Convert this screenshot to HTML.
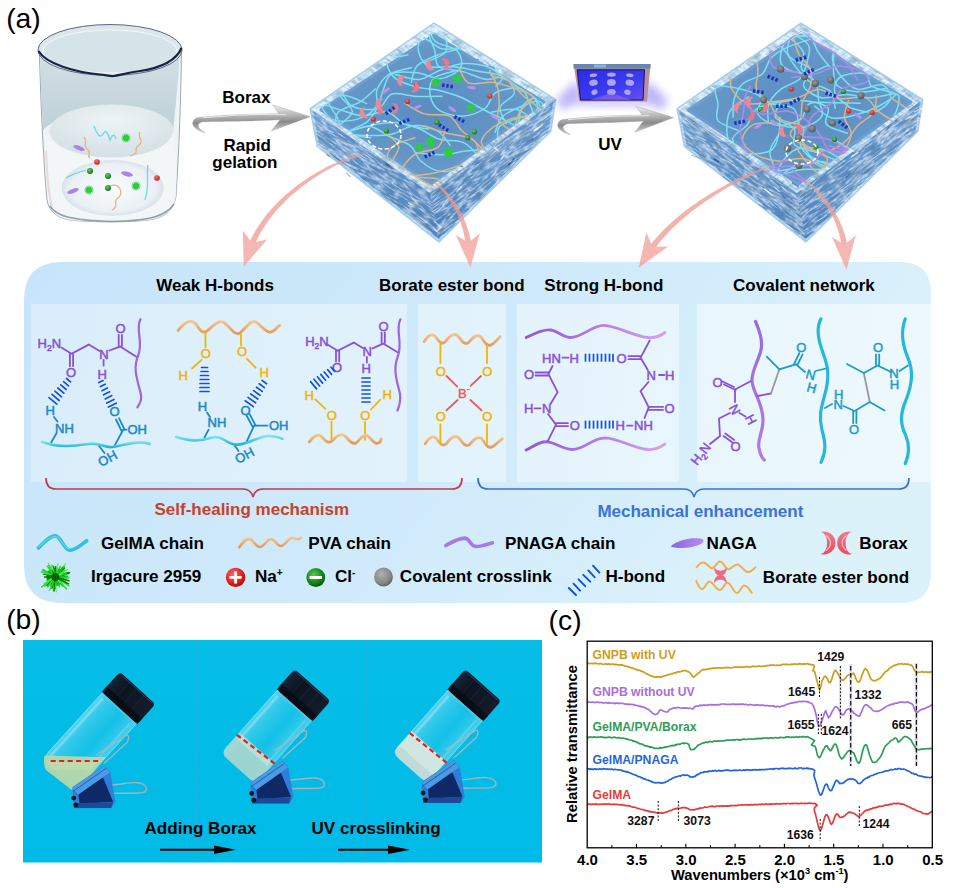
<!DOCTYPE html>
<html><head><meta charset="utf-8">
<style>
html,body{margin:0;padding:0;background:#fff;}
body{width:953px;height:888px;position:relative;overflow:hidden;font-family:"Liberation Sans",sans-serif;}
svg{position:absolute;left:0;top:0;}
</style></head><body>
<svg width="953" height="888" viewBox="0 0 953 888" font-family="Liberation Sans, sans-serif">

<defs>
  <linearGradient id="panelG" x1="0" y1="0" x2="1" y2="0.3">
    <stop offset="0" stop-color="#c6e4fa"/><stop offset="0.55" stop-color="#cfeafb"/><stop offset="1" stop-color="#dcf2fb"/>
  </linearGradient>
  <linearGradient id="boxG" gradientUnits="userSpaceOnUse" x1="31" y1="304" x2="931" y2="482">
    <stop offset="0" stop-color="#d9edfa"/><stop offset="0.5" stop-color="#e3f3fc"/><stop offset="1" stop-color="#eef9fd"/>
  </linearGradient>
</defs>
<path d="M62,262 H900 Q931,262 931,293 V573 Q931,603 901,603 H62 Q24,603 24,565 V300 Q24,262 62,262 Z" fill="url(#panelG)"/>
<g fill="url(#boxG)">
<rect x="31" y="304" width="376" height="178"/>
<rect x="418" y="304" width="88" height="178"/>
<rect x="517" y="304" width="162" height="178"/>
<rect x="697" y="304" width="234" height="178"/>
</g>
<g font-weight="bold" font-size="17">
<text x="156.2" y="291">Weak H-bonds</text>
<text x="379.1" y="291">Borate ester bond</text>
<text x="544.3" y="291">Strong H-bond</text>
<text x="733.1" y="291">Covalent network</text>
</g>
<path d="M46,478 Q46,489 56,489 H243 Q251,489 253,497 Q255,489 263,489 H452 Q462,489 462,478" fill="none" stroke="#c23a4c" stroke-width="1.7"/>
<path d="M478,478 Q478,489 488,489 H684 Q692,489 694,497 Q696,489 704,489 H899 Q909,489 909,478" fill="none" stroke="#3b6fd9" stroke-width="1.7"/>
<text x="154.5" y="515.2" font-weight="bold" font-size="17" fill="#c6422a">Self-healing mechanism</text>
<text x="597.4" y="517.2" font-weight="bold" font-size="17" fill="#3a72dc">Mechanical enhancement</text>
<g font-weight="bold" font-size="17.1">
<text x="101" y="549.1">GelMA chain</text>
<text x="308.3" y="549.1">PVA chain</text>
<text x="505" y="549.1">PNAGA chain</text>
<text x="706.5" y="549.1">NAGA</text>
<text x="859.3" y="549.1">Borax</text>
<text x="91.1" y="581.8">Irgacure 2959</text>
<text x="255" y="582">Na<tspan font-size="10" dy="-6.5">+</tspan></text>
<text x="335" y="582">Cl<tspan font-size="10" dy="-6.5">-</tspan></text>
<text x="399.8" y="582">Covalent crosslink</text>
<text x="605.4" y="582">H-bond</text>
<text x="762.8" y="582.7">Borate ester bond</text>
</g>

<defs>
<linearGradient id="cyanCh" x1="0" y1="0" x2="0" y2="1"><stop offset="0" stop-color="#7fe4f4"/><stop offset="1" stop-color="#22b4d8"/></linearGradient>
<linearGradient id="orCh" x1="0" y1="0" x2="0" y2="1"><stop offset="0" stop-color="#f7c48c"/><stop offset="1" stop-color="#e29a5a"/></linearGradient>
<linearGradient id="puCh" x1="0" y1="0" x2="0" y2="1"><stop offset="0" stop-color="#9a6ae0"/><stop offset="1" stop-color="#b07ae8"/></linearGradient>
<linearGradient id="puV" x1="0" y1="0" x2="1" y2="0"><stop offset="0" stop-color="#8c5ad8"/><stop offset="1" stop-color="#d6a0f0"/></linearGradient>
</defs>
<!-- ===== Structure 1: PNAGA / GelMA ===== -->
<g font-size="13" fill="#8b50d6" stroke="#8b50d6" stroke-width="0.5">
<text x="37.5" y="348.3">H<tspan font-size="8.5" dy="3">2</tspan><tspan dy="-3">N</tspan></text>
<text x="99.3" y="359.2">N</text>
<text x="115.6" y="333">O</text>
<text x="66" y="376.6">O</text>
<text x="97.5" y="378.6">H</text>
</g>
<g stroke="#8b50d6" stroke-width="1.8" fill="none" stroke-linecap="round">
<polyline points="61.4,347.6 71.5,353.7 88.8,344.6 99.6,351"/>
<polyline points="109.4,350.5 120.2,346.6 136.4,356.7"/>
<line x1="118.7" y1="346" x2="118.7" y2="334.8"/><line x1="121.9" y1="346" x2="121.9" y2="334.8"/>
<line x1="69.9" y1="353.5" x2="69.9" y2="366.2"/><line x1="73.1" y1="353.5" x2="73.1" y2="366.2"/>
<line x1="103.6" y1="360" x2="103.6" y2="365.5"/>
</g>
<path d="M140.4,319.2 C135,330 144,342 138,356 C132,370 139,384 141,395 C142,401 139,405 137.4,407.4" fill="none" stroke="#9d66e0" stroke-width="2.2" stroke-linecap="round"/>
<g stroke="#1152e6" stroke-width="1.7" stroke-linecap="round">
<line x1="66.5" y1="378.5" x2="70.5" y2="381.9"/><line x1="63.6" y1="381.6" x2="68.5" y2="385.8"/><line x1="60.7" y1="384.8" x2="66.2" y2="389.5"/><line x1="57.8" y1="388" x2="63.9" y2="393.2"/><line x1="54.9" y1="391.2" x2="61.5" y2="396.8"/><line x1="52" y1="394.4" x2="59.2" y2="400.5"/><line x1="49" y1="397.6" x2="56.8" y2="404.2"/>
<line x1="98.8" y1="382.5" x2="103" y2="380.4"/><line x1="100.4" y1="386.6" x2="105.2" y2="384.2"/><line x1="102" y1="390.7" x2="107.4" y2="388"/><line x1="103.6" y1="394.8" x2="109.6" y2="391.8"/><line x1="105.2" y1="398.9" x2="111.8" y2="395.6"/><line x1="106.8" y1="403" x2="114" y2="399.4"/><line x1="108.4" y1="407.1" x2="116.2" y2="403.2"/>
</g>
<g font-size="13" fill="#1a88c6" stroke="#1a88c6" stroke-width="0.5">
<text x="45.6" y="415.2">H</text>
<text x="55" y="432.6">NH</text>
<text x="109.4" y="416.2">O</text>
<text x="127.5" y="434.2">OH</text>
<text transform="translate(101,467) rotate(-28)">OH</text>
</g>
<g stroke="#1a88c6" stroke-width="1.8" fill="none" stroke-linecap="round">
<line x1="54" y1="417" x2="57.5" y2="421.5"/>
<line x1="56.3" y1="433.5" x2="51.3" y2="442.3"/>
<polyline points="115,444.9 123.2,429.7 126.5,429.7"/>
<line x1="121.5" y1="430.8" x2="116" y2="419.5"/><line x1="124.6" y1="429.6" x2="119.1" y2="418.3"/>
<line x1="99" y1="446" x2="104.5" y2="453"/>
</g>
<path d="M42.2,441.8 C58,448 74,446 88,444 C100,442 104,448 112,447 C125,445 138,440 149.5,443.8" fill="none" stroke="url(#cyanCh)" stroke-width="2.6" stroke-linecap="round"/>

<!-- ===== Structure 2: PVA / GelMA ===== -->
<path d="M178.2,330.4 C184,323 190,318 196,324 C200,330 202,334 207,331 C213,326 218,320 223,322 C230,326 234,336 240,333 C246,328 250,320 256,322 C262,326 266,333 271,332 C275,331 277,327 279.5,325.3" fill="none" stroke="url(#orCh)" stroke-width="2.8" stroke-linecap="round"/>
<g stroke="#f5b400" stroke-width="1.8" fill="none" stroke-linecap="round">
<line x1="205.5" y1="332.4" x2="205.5" y2="347.2"/>
<line x1="201.5" y1="359.8" x2="192" y2="368.5"/>
<line x1="241" y1="334.4" x2="241" y2="345.4"/>
<line x1="247" y1="358.8" x2="255.5" y2="367.5"/>
</g>
<g font-size="13" fill="#f5b400" stroke="#f5b400" stroke-width="0.5">
<text x="200.8" y="358.3">O</text>
<text x="178.5" y="379.6">H</text>
<text x="236.9" y="356.3">O</text>
<text x="259.6" y="376.5">H</text>
</g>
<g stroke="#1152e6" stroke-width="1.7" stroke-linecap="round">
<line x1="201.5" y1="367.5" x2="207.5" y2="367.5"/><line x1="201" y1="371.5" x2="208" y2="371.5"/><line x1="200.6" y1="375.5" x2="208.4" y2="375.5"/><line x1="200.2" y1="379.5" x2="208.8" y2="379.5"/><line x1="200" y1="383.5" x2="209" y2="383.5"/><line x1="200" y1="387.5" x2="209" y2="387.5"/><line x1="200" y1="391.5" x2="209" y2="391.5"/>
<line x1="262" y1="380.4" x2="266.6" y2="383.8"/><line x1="259.2" y1="383.8" x2="264.4" y2="387.6"/><line x1="256.4" y1="387.2" x2="262.2" y2="391.4"/><line x1="253.6" y1="390.6" x2="260" y2="395.2"/><line x1="250.8" y1="394" x2="257.8" y2="399"/><line x1="248" y1="397.4" x2="255.6" y2="402.8"/><line x1="245.2" y1="400.8" x2="253.4" y2="406.6"/>
</g>
<g font-size="13" fill="#1a88c6" stroke="#1a88c6" stroke-width="0.5">
<text x="197.8" y="411">H</text>
<text x="207.5" y="427.2">NH</text>
<text x="240.4" y="415">O</text>
<text x="269" y="430.2">OH</text>
<text transform="translate(238,464) rotate(-28)">OH</text>
</g>
<g stroke="#1a88c6" stroke-width="1.8" fill="none" stroke-linecap="round">
<line x1="207" y1="412.5" x2="210" y2="417"/>
<line x1="208.6" y1="429.7" x2="204.5" y2="437.5"/>
<polyline points="247,440.8 254.1,425.6 267.5,425.6"/>
<line x1="252.6" y1="426.8" x2="246.6" y2="415.5"/><line x1="255.6" y1="425.4" x2="249.6" y2="414.1"/>
<line x1="234" y1="444.5" x2="238.5" y2="451"/>
</g>
<path d="M176.1,436.8 C188,441 198,442 210,438 C222,434 226,444 236,444.6 C248,445 258,436 268,436 C274,436 279,437 282.5,438.8" fill="none" stroke="url(#cyanCh)" stroke-width="2.6" stroke-linecap="round"/>

<!-- ===== Structure 3: PNAGA / PVA ===== -->
<g font-size="13" fill="#8b50d6" stroke="#8b50d6" stroke-width="0.5">
<text x="305.2" y="346.3">H<tspan font-size="8.5" dy="3">2</tspan><tspan dy="-3">N</tspan></text>
<text x="362.4" y="356.2">N</text>
<text x="378.6" y="331">O</text>
<text x="332" y="371.5">O</text>
<text x="361.5" y="372.5">H</text>
</g>
<g stroke="#8b50d6" stroke-width="1.8" fill="none" stroke-linecap="round">
<polyline points="327.4,344.6 337.6,350.7 353.8,342.6 362.8,348"/>
<polyline points="372.6,348.4 383.2,343.6 398.4,352.7"/>
<line x1="381.6" y1="343" x2="381.6" y2="332.5"/><line x1="384.8" y1="343" x2="384.8" y2="332.5"/>
<line x1="336" y1="350.5" x2="336" y2="361.5"/><line x1="339.2" y1="350.5" x2="339.2" y2="361.5"/>
<line x1="366.9" y1="357" x2="366.9" y2="362.5"/>
</g>
<path d="M400.4,319.3 C395,330 403,342 398,356 C392,370 398,384 400,394 C401,402 399,407 397.4,410.5" fill="none" stroke="#9d66e0" stroke-width="2.2" stroke-linecap="round"/>
<g stroke="#1152e6" stroke-width="1.7" stroke-linecap="round">
<line x1="331" y1="367.2" x2="334.6" y2="371.4"/><line x1="327.6" y1="369.6" x2="331.6" y2="374.4"/><line x1="324.2" y1="372" x2="328.6" y2="377.3"/><line x1="320.8" y1="374.4" x2="325.6" y2="380.2"/><line x1="317.4" y1="376.8" x2="322.6" y2="383.1"/><line x1="314" y1="379.2" x2="319.6" y2="386"/><line x1="310.6" y1="381.6" x2="316.6" y2="388.9"/>
<line x1="362" y1="378" x2="370" y2="378"/><line x1="362" y1="382" x2="370" y2="382"/><line x1="362" y1="386" x2="370" y2="386"/><line x1="362" y1="390" x2="370" y2="390"/><line x1="362" y1="394" x2="370" y2="394"/><line x1="362" y1="398" x2="370" y2="398"/><line x1="362" y1="402" x2="370" y2="402"/>
</g>
<g font-size="13" fill="#f5b400" stroke="#f5b400" stroke-width="0.5">
<text x="304.5" y="399.8">H</text>
<text x="326.8" y="420">O</text>
<text x="360.3" y="420">O</text>
<text x="382.5" y="398.8">H</text>
</g>
<g stroke="#f5b400" stroke-width="1.8" fill="none" stroke-linecap="round">
<line x1="315.3" y1="399.3" x2="325.4" y2="408.8"/>
<line x1="331.5" y1="422" x2="331.5" y2="439.9"/>
<line x1="371" y1="409.5" x2="380.1" y2="399.8"/>
<line x1="365" y1="422" x2="365" y2="439.9"/>
</g>
<path d="M309.2,441.9 C314,436 318,433 322,437 C326,442 329,444 333,440 C338,435 341,433 345,436 C349,440 352,445 356,443 C360,440 363,433 368,436 C372,440 376,446 380,442 L381.2,438.9" fill="none" stroke="url(#orCh)" stroke-width="2.8" stroke-linecap="round"/>

<!-- ===== Borate ===== -->
<path d="M424.2,341.5 C428,336 431,333 435,336 C439,341 441,345 445,342 C449,337 452,333 457,335 C461,339 463,345 468,343 C472,339 475,334 480,336 C484,340 486,347 491,345 C495,343 498,339 500.2,336.5" fill="none" stroke="url(#orCh)" stroke-width="2.8" stroke-linecap="round"/>
<path d="M425.2,443.8 C429,438 432,435 436,438 C440,443 442,447 446,444 C450,439 453,435 458,437 C462,441 464,447 469,445 C473,441 476,436 481,438 C485,442 487,449 492,447 C496,445 499,441 502.2,438.8" fill="none" stroke="url(#orCh)" stroke-width="2.8" stroke-linecap="round"/>
<g stroke="#f5b400" stroke-width="1.8" stroke-linecap="round">
<line x1="440.4" y1="344.6" x2="440.4" y2="363.2"/><line x1="487" y1="345.6" x2="487" y2="363.2"/>
<line x1="440.4" y1="424.5" x2="440.4" y2="442"/><line x1="487" y1="424.5" x2="487" y2="443"/>
</g>
<g font-size="13" fill="#f5b400" stroke="#f5b400" stroke-width="0.5">
<text x="435.7" y="375.7">O</text><text x="482.3" y="375.7">O</text>
<text x="435.7" y="421.3">O</text><text x="482.3" y="421.3">O</text>
</g>
<g stroke="#f05656" stroke-width="1.8" stroke-linecap="round">
<line x1="446.5" y1="376" x2="457.2" y2="386.6"/><line x1="481" y1="376" x2="470.6" y2="385.8"/>
<line x1="457.6" y1="400" x2="446.4" y2="410.4"/><line x1="470.4" y1="400" x2="481.6" y2="410.4"/>
</g>
<text x="458" y="398" font-size="13" fill="#f05a5a" stroke="#f05a5a" stroke-width="0.5">B<tspan font-size="9" dy="-6">-</tspan></text>

<!-- ===== Strong H-bond ===== -->
<path d="M526.1,337.5 C536,333 544,329 551,330 C558,331 562,337 570,337.5 C582,338 592,325 604,325.3 C618,326 632,336 648,337.5 C656,338 661,336 665,332.4" fill="none" stroke="url(#puV)" stroke-width="2.8" stroke-linecap="round"/>
<path d="M526.1,450 C534,446 540,441 548,441.8 C556,443 562,449 572,449.5 C584,450 592,438 605,437.8 C618,438 632,448 648,449.5 C656,450 661,447 665,443.9" fill="none" stroke="url(#puV)" stroke-width="2.8" stroke-linecap="round"/>
<g font-size="13" fill="#8b50d6" stroke="#8b50d6" stroke-width="0.5">
<text x="542" y="362.5">HN</text><text x="569.5" y="362.5">H</text>
<text x="616.6" y="362.5">O</text>
<text x="646.5" y="380">N</text><text x="665" y="380">H</text>
<text x="664.5" y="413">O</text>
<text x="524" y="379">O</text>
<text x="524" y="413">H</text><text x="542" y="413">N</text>
<text x="569.8" y="429.5">O</text>
<text x="615.5" y="430">H</text><text x="634" y="430">NH</text>
</g>
<g stroke="#8b50d6" stroke-width="1.8" fill="none" stroke-linecap="round">
<line x1="562.5" y1="357.7" x2="568.5" y2="357.7"/>
<line x1="628.5" y1="356.2" x2="640.6" y2="356.2"/><line x1="628.5" y1="359.2" x2="640.6" y2="359.2"/>
<polyline points="649.7,340.5 640.6,357.7 647.8,370"/>
<line x1="659" y1="375" x2="664.5" y2="375"/>
<polyline points="648.5,382 640.6,391.2 648.7,407.4 644.5,418"/>
<line x1="648.7" y1="406.9" x2="663" y2="406.9"/><line x1="648.7" y1="409.9" x2="663" y2="409.9"/>
<line x1="535.5" y1="372.5" x2="548.4" y2="372.5"/><line x1="535.5" y1="375.5" x2="548.4" y2="375.5"/>
<polyline points="552.5,366 548.4,374 557.6,392.2 550.5,404"/>
<line x1="534.5" y1="408.4" x2="540.5" y2="408.4"/>
<polyline points="548,414 556,424.6 547.4,441.8"/>
<line x1="556" y1="423.1" x2="568" y2="423.1"/><line x1="556" y1="426.1" x2="568" y2="426.1"/>
<line x1="627" y1="425.6" x2="632.5" y2="425.6"/>
</g>
<g stroke="#1152e6" stroke-width="1.7">
<line x1="585.5" y1="353.7" x2="585.5" y2="361.7"/><line x1="589.5" y1="353.7" x2="589.5" y2="361.7"/><line x1="593.5" y1="353.7" x2="593.5" y2="361.7"/><line x1="597.5" y1="353.7" x2="597.5" y2="361.7"/><line x1="601.5" y1="353.7" x2="601.5" y2="361.7"/><line x1="605.5" y1="353.7" x2="605.5" y2="361.7"/><line x1="609.5" y1="353.7" x2="609.5" y2="361.7"/><line x1="613" y1="353.7" x2="613" y2="361.7"/>
<line x1="585.5" y1="420.6" x2="585.5" y2="428.6"/><line x1="589.5" y1="420.6" x2="589.5" y2="428.6"/><line x1="593.5" y1="420.6" x2="593.5" y2="428.6"/><line x1="597.5" y1="420.6" x2="597.5" y2="428.6"/><line x1="601.5" y1="420.6" x2="601.5" y2="428.6"/><line x1="605.5" y1="420.6" x2="605.5" y2="428.6"/><line x1="609.5" y1="420.6" x2="609.5" y2="428.6"/><line x1="613" y1="420.6" x2="613" y2="428.6"/>
</g>

<!-- ===== Covalent network ===== -->
<path d="M755.5,321.4 C759,330 763,340 761,350 C758,362 752,370 752,380 C752,392 763,402 763,420 C763,432 757,440 759,448 C760,454 762,458 764.3,460" fill="none" stroke="url(#puCh)" stroke-width="3.2" stroke-linecap="round"/>
<path d="M821,318.9 C817,326 817,336 822,350 C827,364 830,372 826,390 C822,406 818,414 822,430 C826,444 826,452 821,462.4" fill="none" stroke="#25b8dc" stroke-width="3.2" stroke-linecap="round"/>
<path d="M905.3,318.9 C901,330 902,344 908,358 C913,370 913,382 906,400 C900,414 900,424 906,436 C910,446 909,455 905.3,463.7" fill="none" stroke="#25b8dc" stroke-width="3.2" stroke-linecap="round"/>
<g font-size="13" fill="#8b50d6" stroke="#8b50d6" stroke-width="0.5">
<text x="712.5" y="386.5">O</text>
<text transform="translate(734.6,409.5) rotate(62)" text-anchor="middle" dy="4.5">N</text><text transform="translate(751,419.5) rotate(62)" text-anchor="middle" dy="4.5">H</text>
<text transform="translate(697,466) rotate(-52)">H<tspan font-size="8.5" dy="3">2</tspan><tspan dy="-3">N</tspan></text>
<text x="730.6" y="450.5">O</text>
</g>
<g stroke="#8b50d6" stroke-width="1.8" fill="none" stroke-linecap="round">
<polyline points="751,381 735,389.5 735,402"/>
<line x1="734" y1="387" x2="722.5" y2="381.5"/><line x1="735.6" y1="390" x2="724" y2="384.5"/>
<polyline points="730,413 719,418.5 720,436 710,444"/><line x1="739.5" y1="413" x2="745.5" y2="416.5"/>
<line x1="723.5" y1="436" x2="732.5" y2="442.5"/><line x1="725.3" y1="433.5" x2="734.3" y2="440"/>
<line x1="757.5" y1="396" x2="771" y2="393.5"/>
</g>
<g stroke="#9a9a9a" stroke-width="1.8" fill="none" stroke-linecap="round">
<polyline points="771,393.5 779.4,369.3"/>
<line x1="869.8" y1="402" x2="863.8" y2="373"/>
</g>
<g font-size="13" fill="#1e9cc8" stroke="#1e9cc8" stroke-width="0.5">
<text x="796.2" y="351.8">O</text>
<text transform="translate(805,378) rotate(15)">N</text>
<text transform="translate(806,391) rotate(15)">H</text>
<text x="834" y="398.5">H</text>
<text x="833.5" y="409">N</text>
<text x="849" y="433.6">O</text>
<text x="873" y="351.8">O</text>
<text x="889.3" y="377.5">N</text>
<text x="889.8" y="389">H</text>
</g>
<g stroke="#1e9cc8" stroke-width="1.8" fill="none" stroke-linecap="round">
<line x1="766.8" y1="356.7" x2="779.4" y2="369.3"/>
<polyline points="779.4,369.3 795.8,364.3 805,372"/>
<line x1="794.2" y1="363.6" x2="799.4" y2="353"/><line x1="797.4" y1="365" x2="802.6" y2="354.4"/>
<line x1="815.5" y1="371" x2="825.8" y2="368.5"/>
<line x1="825" y1="408" x2="832" y2="404"/>
<polyline points="843.5,406 854.7,411 869.8,402 884.5,410.5"/>
<line x1="853.2" y1="411" x2="853.2" y2="423"/><line x1="856.4" y1="411" x2="856.4" y2="423"/>
<polyline points="847,364 863.8,373 877.6,365.5 891,372"/>
<line x1="876" y1="365" x2="876" y2="354.5"/><line x1="879.2" y1="365" x2="879.2" y2="354.5"/>
<line x1="899.5" y1="371" x2="908" y2="365.5"/>
</g>

<defs>
<radialGradient id="naG" cx="0.4" cy="0.35" r="0.7"><stop offset="0" stop-color="#ff6a6a"/><stop offset="0.7" stop-color="#e01818"/><stop offset="1" stop-color="#a00808"/></radialGradient>
<radialGradient id="clG" cx="0.4" cy="0.35" r="0.7"><stop offset="0" stop-color="#5cc85c"/><stop offset="0.6" stop-color="#138a1a"/><stop offset="1" stop-color="#06500a"/></radialGradient>
<radialGradient id="grG" cx="0.4" cy="0.35" r="0.7"><stop offset="0" stop-color="#b0b0b0"/><stop offset="0.7" stop-color="#858585"/><stop offset="1" stop-color="#5a5a5a"/></radialGradient>
<linearGradient id="nagaG" x1="0" y1="0" x2="1" y2="0"><stop offset="0" stop-color="#8e62e6"/><stop offset="1" stop-color="#b48cf2"/></linearGradient>
<linearGradient id="boraxG" x1="0" y1="0" x2="0" y2="1"><stop offset="0" stop-color="#f47a88"/><stop offset="1" stop-color="#e84a5e"/></linearGradient>
</defs>
<!-- GelMA chain -->
<path d="M38.4,548 C45,541 50,535.9 55.3,535.9 C61,536 64,550.3 69.8,550.3 C76,550.3 82,544 86.7,540.7" fill="none" stroke="#2fc2dc" stroke-width="3.6" stroke-linecap="round"/>
<path d="M39,547 C45,541 50,536.6 55.3,536.6 C61,537 64,549 69.8,549" fill="none" stroke="#8ae8f4" stroke-width="1" stroke-linecap="round" opacity="0.7"/>
<!-- PVA chain -->
<path d="M239.2,547.3 C243,542 246,538 250,539 C254,541 256,547 260,547 C264,547 267,539 271,539 C275,539 277,546 281,546 C285,546 288,538 292,538 C296,538 298,541 300.8,537.6" fill="none" stroke="url(#orCh)" stroke-width="2.6" stroke-linecap="round"/>
<!-- PNAGA chain -->
<path d="M445.8,545.5 C452,542 458,538.1 464.9,538.1 C470,538.5 470,546.5 476,546.5 C482,546.5 488,544 492.5,542.8" fill="none" stroke="#a57ae6" stroke-width="3.6" stroke-linecap="round"/>
<!-- NAGA leaf -->
<path d="M670.5,546.5 C678,540 690,537.5 700,538.5 C704.5,539 704.5,542 701,544 C692,548 680,549.5 670.5,546.5 Z" fill="url(#nagaG)"/>
<!-- Borax -->
<path d="M820.6,532 A11.5,11.5 0 1,1 820.6,554 A6.5,11 0 0,0 820.6,532 Z" fill="url(#boraxG)"/>
<path d="M852,532 A11.5,11.5 0 1,0 852,554 A6.5,11 0 0,1 852,532 Z" fill="url(#boraxG)"/>
<path d="M826,535.5 C829.5,538 830.5,541 830.5,543 C830.5,546 829.5,548 826,550.5" fill="none" stroke="#ffd0d6" stroke-width="1.3" opacity="0.85"/>
<path d="M846.6,535.5 C843.1,538 842.1,541 842.1,543 C842.1,546 843.1,548 846.6,550.5" fill="none" stroke="#ffd0d6" stroke-width="1.3" opacity="0.85"/>
<!-- Irgacure -->
<g transform="translate(55.3,576.9)">
<circle r="9" fill="#0c8a12"/>
<line x1="0.2" y1="2.4" x2="1.1" y2="15.1" stroke="#40ff40" stroke-width="0.9" stroke-linecap="round"/>
<line x1="1.0" y1="0.1" x2="13.7" y2="1.1" stroke="#30e030" stroke-width="1.0" stroke-linecap="round"/>
<line x1="-0.5" y1="-2.2" x2="-2.3" y2="-11.1" stroke="#0a7a0a" stroke-width="1.3" stroke-linecap="round"/>
<line x1="2.0" y1="2.8" x2="7.1" y2="9.8" stroke="#40ff40" stroke-width="1.1" stroke-linecap="round"/>
<line x1="0.6" y1="0.1" x2="13.2" y2="1.3" stroke="#40ff40" stroke-width="0.8" stroke-linecap="round"/>
<line x1="0.2" y1="-1.1" x2="2.6" y2="-13.3" stroke="#40ff40" stroke-width="1.4" stroke-linecap="round"/>
<line x1="2.7" y1="-2.5" x2="9.2" y2="-8.8" stroke="#0a7a0a" stroke-width="1.4" stroke-linecap="round"/>
<line x1="-0.5" y1="-0.2" x2="-13.0" y2="-6.8" stroke="#10b010" stroke-width="0.9" stroke-linecap="round"/>
<line x1="2.5" y1="2.9" x2="5.7" y2="6.6" stroke="#0a7a0a" stroke-width="1.4" stroke-linecap="round"/>
<line x1="1.4" y1="-1.8" x2="10.1" y2="-13.0" stroke="#40ff40" stroke-width="1.3" stroke-linecap="round"/>
<line x1="-2.4" y1="-1.4" x2="-12.3" y2="-7.2" stroke="#1ed01e" stroke-width="1.5" stroke-linecap="round"/>
<line x1="0.7" y1="-0.0" x2="12.4" y2="-0.7" stroke="#10b010" stroke-width="1.6" stroke-linecap="round"/>
<line x1="2.4" y1="-1.6" x2="9.5" y2="-6.5" stroke="#30e030" stroke-width="1.3" stroke-linecap="round"/>
<line x1="0.5" y1="-0.0" x2="9.1" y2="-0.7" stroke="#0a7a0a" stroke-width="1.5" stroke-linecap="round"/>
<line x1="3.2" y1="-0.2" x2="7.7" y2="-0.5" stroke="#0a7a0a" stroke-width="1.5" stroke-linecap="round"/>
<line x1="1.6" y1="0.2" x2="10.3" y2="1.3" stroke="#1ed01e" stroke-width="0.8" stroke-linecap="round"/>
<line x1="-2.2" y1="-1.9" x2="-5.5" y2="-4.9" stroke="#10b010" stroke-width="1.2" stroke-linecap="round"/>
<line x1="0.8" y1="-0.4" x2="8.1" y2="-4.4" stroke="#1ed01e" stroke-width="1.0" stroke-linecap="round"/>
<line x1="0.7" y1="0.4" x2="12.5" y2="6.6" stroke="#0a7a0a" stroke-width="1.0" stroke-linecap="round"/>
<line x1="-0.3" y1="3.9" x2="-1.1" y2="12.5" stroke="#10b010" stroke-width="1.1" stroke-linecap="round"/>
<line x1="1.5" y1="-0.4" x2="13.7" y2="-3.6" stroke="#0a7a0a" stroke-width="1.5" stroke-linecap="round"/>
<line x1="-2.1" y1="1.8" x2="-10.5" y2="9.1" stroke="#1ed01e" stroke-width="1.3" stroke-linecap="round"/>
<line x1="1.6" y1="-0.6" x2="10.3" y2="-4.0" stroke="#30e030" stroke-width="1.5" stroke-linecap="round"/>
<line x1="-1.1" y1="0.5" x2="-8.4" y2="3.5" stroke="#10b010" stroke-width="0.8" stroke-linecap="round"/>
<line x1="-0.1" y1="0.0" x2="-10.0" y2="5.9" stroke="#40ff40" stroke-width="1.3" stroke-linecap="round"/>
<line x1="0.9" y1="1.0" x2="8.1" y2="9.0" stroke="#10b010" stroke-width="1.3" stroke-linecap="round"/>
<line x1="-1.8" y1="2.4" x2="-7.6" y2="10.1" stroke="#1ed01e" stroke-width="1.3" stroke-linecap="round"/>
<line x1="2.4" y1="-0.7" x2="14.5" y2="-4.2" stroke="#10b010" stroke-width="1.3" stroke-linecap="round"/>
<line x1="-0.5" y1="1.1" x2="-4.2" y2="9.0" stroke="#10b010" stroke-width="1.5" stroke-linecap="round"/>
<line x1="-0.0" y1="0.4" x2="-1.2" y2="13.2" stroke="#1ed01e" stroke-width="1.6" stroke-linecap="round"/>
<line x1="-0.8" y1="-1.8" x2="-3.3" y2="-7.4" stroke="#10b010" stroke-width="1.0" stroke-linecap="round"/>
<line x1="1.1" y1="2.6" x2="4.0" y2="9.7" stroke="#1ed01e" stroke-width="1.3" stroke-linecap="round"/>
<line x1="0.9" y1="-0.3" x2="11.8" y2="-3.9" stroke="#30e030" stroke-width="0.9" stroke-linecap="round"/>
<line x1="-0.1" y1="-2.3" x2="-0.4" y2="-8.7" stroke="#10b010" stroke-width="1.0" stroke-linecap="round"/>
<line x1="0.6" y1="0.5" x2="8.1" y2="7.7" stroke="#40ff40" stroke-width="0.9" stroke-linecap="round"/>
<line x1="-0.5" y1="2.5" x2="-2.4" y2="13.2" stroke="#40ff40" stroke-width="1.1" stroke-linecap="round"/>
<line x1="0.7" y1="0.8" x2="11.2" y2="11.9" stroke="#10b010" stroke-width="1.3" stroke-linecap="round"/>
<line x1="-0.0" y1="0.1" x2="-2.9" y2="11.2" stroke="#0a7a0a" stroke-width="0.9" stroke-linecap="round"/>
<line x1="3.5" y1="0.1" x2="14.5" y2="0.4" stroke="#40ff40" stroke-width="1.1" stroke-linecap="round"/>
<line x1="0.8" y1="-0.3" x2="13.7" y2="-4.4" stroke="#0a7a0a" stroke-width="1.5" stroke-linecap="round"/>
<line x1="-0.6" y1="-1.0" x2="-5.8" y2="-9.5" stroke="#10b010" stroke-width="1.5" stroke-linecap="round"/>
<line x1="2.5" y1="-3.0" x2="8.9" y2="-10.6" stroke="#1ed01e" stroke-width="1.4" stroke-linecap="round"/>
<line x1="2.7" y1="0.8" x2="13.7" y2="4.0" stroke="#30e030" stroke-width="1.5" stroke-linecap="round"/>
<line x1="0.0" y1="-0.0" x2="9.4" y2="-6.8" stroke="#1ed01e" stroke-width="0.9" stroke-linecap="round"/>
<line x1="-0.6" y1="2.0" x2="-3.8" y2="11.7" stroke="#0a7a0a" stroke-width="0.8" stroke-linecap="round"/>
<line x1="3.3" y1="-2.0" x2="12.3" y2="-7.5" stroke="#40ff40" stroke-width="1.2" stroke-linecap="round"/>
<line x1="0.2" y1="-0.8" x2="2.0" y2="-9.6" stroke="#40ff40" stroke-width="1.5" stroke-linecap="round"/>
<line x1="0.8" y1="0.7" x2="6.5" y2="6.1" stroke="#30e030" stroke-width="1.5" stroke-linecap="round"/>
<line x1="3.4" y1="0.2" x2="12.0" y2="0.6" stroke="#1ed01e" stroke-width="1.4" stroke-linecap="round"/>
<line x1="0.0" y1="2.1" x2="0.1" y2="11.9" stroke="#1ed01e" stroke-width="1.2" stroke-linecap="round"/>
<line x1="0.0" y1="-0.2" x2="1.2" y2="-6.9" stroke="#30e030" stroke-width="0.8" stroke-linecap="round"/>
<line x1="0.1" y1="0.0" x2="10.3" y2="3.3" stroke="#1ed01e" stroke-width="1.2" stroke-linecap="round"/>
<line x1="-0.3" y1="0.0" x2="-8.2" y2="0.5" stroke="#0a7a0a" stroke-width="1.3" stroke-linecap="round"/>
<line x1="-0.7" y1="-0.4" x2="-8.5" y2="-5.1" stroke="#10b010" stroke-width="1.1" stroke-linecap="round"/>
<line x1="2.2" y1="2.3" x2="11.2" y2="11.6" stroke="#40ff40" stroke-width="0.9" stroke-linecap="round"/>
<line x1="-2.2" y1="2.2" x2="-8.3" y2="8.5" stroke="#0a7a0a" stroke-width="1.3" stroke-linecap="round"/>
<line x1="0.2" y1="0.1" x2="13.6" y2="3.8" stroke="#0a7a0a" stroke-width="1.4" stroke-linecap="round"/>
<line x1="-0.7" y1="1.5" x2="-5.8" y2="13.4" stroke="#1ed01e" stroke-width="1.0" stroke-linecap="round"/>
<line x1="-0.3" y1="-0.1" x2="-12.2" y2="-2.8" stroke="#0a7a0a" stroke-width="1.0" stroke-linecap="round"/>
<line x1="0.9" y1="1.0" x2="4.9" y2="5.3" stroke="#40ff40" stroke-width="1.4" stroke-linecap="round"/>
<line x1="-0.0" y1="0.5" x2="-0.8" y2="10.7" stroke="#40ff40" stroke-width="1.4" stroke-linecap="round"/>
<line x1="-1.1" y1="-2.0" x2="-6.4" y2="-11.2" stroke="#1ed01e" stroke-width="1.4" stroke-linecap="round"/>
<line x1="-0.2" y1="-0.9" x2="-2.2" y2="-10.6" stroke="#0a7a0a" stroke-width="0.8" stroke-linecap="round"/>
<line x1="0.6" y1="0.4" x2="13.9" y2="9.1" stroke="#1ed01e" stroke-width="1.1" stroke-linecap="round"/>
<line x1="0.3" y1="-0.4" x2="4.3" y2="-5.8" stroke="#0a7a0a" stroke-width="1.5" stroke-linecap="round"/>
<line x1="3.1" y1="-0.9" x2="11.1" y2="-3.4" stroke="#1ed01e" stroke-width="1.6" stroke-linecap="round"/>
<line x1="-0.9" y1="-0.4" x2="-10.3" y2="-4.4" stroke="#40ff40" stroke-width="1.4" stroke-linecap="round"/>
<line x1="1.2" y1="-0.5" x2="6.9" y2="-3.0" stroke="#40ff40" stroke-width="0.9" stroke-linecap="round"/>
<line x1="2.3" y1="1.2" x2="13.3" y2="7.0" stroke="#0a7a0a" stroke-width="1.3" stroke-linecap="round"/>
<line x1="0.0" y1="-1.5" x2="0.2" y2="-10.1" stroke="#0a7a0a" stroke-width="1.6" stroke-linecap="round"/>
<line x1="-1.4" y1="-0.5" x2="-13.8" y2="-5.1" stroke="#30e030" stroke-width="1.6" stroke-linecap="round"/>
<line x1="-0.5" y1="0.3" x2="-11.1" y2="6.8" stroke="#40ff40" stroke-width="1.4" stroke-linecap="round"/>
<line x1="-1.2" y1="-2.3" x2="-7.1" y2="-13.7" stroke="#30e030" stroke-width="0.9" stroke-linecap="round"/>
<line x1="-2.8" y1="0.0" x2="-10.9" y2="0.1" stroke="#0a7a0a" stroke-width="1.3" stroke-linecap="round"/>
<line x1="1.9" y1="-2.3" x2="5.1" y2="-6.3" stroke="#30e030" stroke-width="1.3" stroke-linecap="round"/>
<line x1="-1.1" y1="2.5" x2="-3.5" y2="8.1" stroke="#10b010" stroke-width="1.3" stroke-linecap="round"/>
<line x1="1.4" y1="-1.8" x2="7.2" y2="-9.3" stroke="#10b010" stroke-width="1.5" stroke-linecap="round"/>
<line x1="-1.1" y1="3.0" x2="-3.2" y2="8.6" stroke="#30e030" stroke-width="0.9" stroke-linecap="round"/>
<line x1="-2.0" y1="2.4" x2="-6.1" y2="7.4" stroke="#30e030" stroke-width="1.1" stroke-linecap="round"/>
<line x1="-0.3" y1="-0.8" x2="-4.1" y2="-11.9" stroke="#40ff40" stroke-width="1.5" stroke-linecap="round"/>
<line x1="0.8" y1="-1.7" x2="5.0" y2="-10.3" stroke="#1ed01e" stroke-width="1.5" stroke-linecap="round"/>
<line x1="-1.5" y1="1.1" x2="-13.7" y2="9.9" stroke="#30e030" stroke-width="1.5" stroke-linecap="round"/>
<line x1="-0.2" y1="-0.2" x2="-7.9" y2="-10.6" stroke="#30e030" stroke-width="1.5" stroke-linecap="round"/>
<line x1="0.1" y1="1.0" x2="0.4" y2="8.5" stroke="#30e030" stroke-width="1.3" stroke-linecap="round"/>
<line x1="-1.7" y1="-3.3" x2="-3.3" y2="-6.5" stroke="#30e030" stroke-width="1.5" stroke-linecap="round"/>
<line x1="-1.1" y1="2.7" x2="-4.0" y2="9.6" stroke="#1ed01e" stroke-width="0.9" stroke-linecap="round"/>
<line x1="-0.0" y1="0.1" x2="-1.3" y2="14.3" stroke="#0a7a0a" stroke-width="1.3" stroke-linecap="round"/>
<line x1="-0.6" y1="-1.2" x2="-3.2" y2="-6.3" stroke="#0a7a0a" stroke-width="1.1" stroke-linecap="round"/>
<line x1="2.6" y1="1.4" x2="10.7" y2="5.7" stroke="#0a7a0a" stroke-width="1.1" stroke-linecap="round"/>
<line x1="-1.1" y1="-0.3" x2="-7.6" y2="-2.2" stroke="#0a7a0a" stroke-width="0.9" stroke-linecap="round"/>
<circle r="4" fill="#064a08" opacity="0.8"/>
</g>
<!-- Na+ -->
<circle cx="235.6" cy="577.4" r="9.7" fill="url(#naG)"/>
<path d="M229.5,577.4 H241.7 M235.6,571.3 V583.5" stroke="#fff" stroke-width="2.8"/>
<!-- Cl- -->
<circle cx="315.8" cy="577.5" r="9.4" fill="url(#clG)"/>
<path d="M309.6,577.5 H322" stroke="#fff" stroke-width="3"/>
<!-- gray -->
<circle cx="383.5" cy="577" r="9.4" fill="url(#grG)"/>
<!-- H-bond -->
<g stroke="#0a50f0" stroke-width="1.9" stroke-linecap="round">
<line x1="568.8" y1="588" x2="576" y2="595"/><line x1="573.5" y1="583.7" x2="580.1" y2="590.6"/><line x1="578.6" y1="579.3" x2="585.2" y2="586.2"/><line x1="583.3" y1="574.8" x2="590.2" y2="581.7"/><line x1="588.3" y1="570.4" x2="594.6" y2="577.2"/><line x1="593" y1="565.7" x2="599.4" y2="572.6"/>
</g>
<!-- Borate ester icon -->
<path d="M696.5,567.3 C699,564 701,562.5 703.5,562.5 C707,562.5 709,568.2 712,568.2 C715,568.2 717,561.6 720,561.6 C723.5,561.6 725,569.2 728.5,569.2 C731.5,569.2 734,564.5 737,564.5 C741,564.5 744,572 748,572 C751,572 753.5,569 755.5,567.3" fill="none" stroke="#f0b04a" stroke-width="2" stroke-linecap="round"/>
<path d="M696.3,581 C698,585 699.5,589 702,589 C705,589 706.5,581.5 709.3,581.5 C713,581.5 716,590 719.6,590 C723,590 724.5,582.5 727.2,582.5 C731,582.5 733.5,593 736.7,593 C740,593 741.5,585.4 744.2,585.4 C747.5,585.4 750,590 751.8,593" fill="none" stroke="#f0b04a" stroke-width="2" stroke-linecap="round"/>
<g transform="translate(720.4,575.3) rotate(90) scale(0.6,0.54) translate(-836.3,-543)"><path transform="translate(1.6,0)" d="M820.6,532 A11.5,11.5 0 1,1 820.6,554 A6.5,11 0 0,0 820.6,532 Z" fill="#f06a80"/><path transform="translate(-1.6,0)" d="M852,532 A11.5,11.5 0 1,0 852,554 A6.5,11 0 0,1 852,532 Z" fill="#f06a80"/></g>

<defs>
<linearGradient id="arrowG" x1="0" y1="0" x2="0" y2="1">
 <stop offset="0" stop-color="#f2f2f2"/><stop offset="0.4" stop-color="#b4b4b4"/><stop offset="0.65" stop-color="#8a8a8a"/><stop offset="1" stop-color="#d8d8d8"/>
</linearGradient>
<linearGradient id="sideG" x1="0" y1="0" x2="0" y2="1">
 <stop offset="0" stop-color="#7aaee0"/><stop offset="1" stop-color="#4e84c0"/>
</linearGradient>
<linearGradient id="rimG" x1="0" y1="0" x2="1" y2="1">
 <stop offset="0" stop-color="#b4dcf6"/><stop offset="1" stop-color="#8cc0ea"/>
</linearGradient>
<radialGradient id="faceG" cx="0.5" cy="0.5" r="0.6">
 <stop offset="0" stop-color="#5a8cc0"/><stop offset="1" stop-color="#6a9ccc"/>
</radialGradient>
<linearGradient id="pinkA" x1="0" y1="0" x2="0" y2="1">
 <stop offset="0" stop-color="#f09088" stop-opacity="0.55"/><stop offset="1" stop-color="#f4aaa4" stop-opacity="0.9"/>
</linearGradient>
<linearGradient id="beakG" x1="0" y1="0" x2="1" y2="0">
 <stop offset="0" stop-color="#c8d4da"/><stop offset="0.15" stop-color="#e6edf0"/><stop offset="0.5" stop-color="#f2f6f8"/><stop offset="0.85" stop-color="#dfe8ec"/><stop offset="1" stop-color="#b8c8d0"/>
</linearGradient>
<linearGradient id="beakTop" x1="0" y1="0" x2="0" y2="1">
 <stop offset="0" stop-color="#d2e0e5"/><stop offset="1" stop-color="#bed0d8"/>
</linearGradient>
<radialGradient id="waterG" cx="0.5" cy="0.3" r="0.8">
 <stop offset="0" stop-color="#eef4f6"/><stop offset="1" stop-color="#d0dde2"/>
</radialGradient>
<radialGradient id="botG" cx="0.5" cy="0.5" r="0.6">
 <stop offset="0" stop-color="#fafcfd"/><stop offset="0.7" stop-color="#eaf0f5"/><stop offset="1" stop-color="#c4d2dc"/>
</radialGradient>
<linearGradient id="lampG" x1="0" y1="0" x2="1" y2="1">
 <stop offset="0" stop-color="#2a2ae6"/><stop offset="0.6" stop-color="#3e3cf0"/><stop offset="1" stop-color="#6a50ee"/>
</linearGradient>
<radialGradient id="glowG" cx="0.5" cy="0" r="1">
 <stop offset="0" stop-color="#7a6cf6" stop-opacity="0.75"/><stop offset="0.5" stop-color="#b0a8fa" stop-opacity="0.35"/><stop offset="1" stop-color="#ffffff" stop-opacity="0"/>
</radialGradient>
<filter id="iceW" x="0" y="0" width="100%" height="100%" filterUnits="objectBoundingBox">
 <feTurbulence type="turbulence" baseFrequency="0.05 0.3" numOctaves="3" seed="5" result="t"/>
 <feColorMatrix in="t" type="matrix" values="0 0 0 0 1  0 0 0 0 1  0 0 0 0 1  0 0 0 -3.2 1.25" result="w"/>
 <feComposite in="w" in2="SourceAlpha" operator="in"/>
</filter>
<filter id="iceD" x="0" y="0" width="100%" height="100%" filterUnits="objectBoundingBox">
 <feTurbulence type="fractalNoise" baseFrequency="0.07 0.35" numOctaves="2" seed="9" result="t"/>
 <feColorMatrix in="t" type="matrix" values="0 0 0 0 0.1  0 0 0 0 0.2  0 0 0 0 0.35  0 0 0 -6 3.1" result="w"/>
 <feComposite in="w" in2="SourceAlpha" operator="in"/>
</filter>
<radialGradient id="greenDot" cx="0.4" cy="0.35" r="0.7"><stop offset="0" stop-color="#60d060"/><stop offset="1" stop-color="#0a6a14"/></radialGradient>
<radialGradient id="redDot" cx="0.4" cy="0.35" r="0.7"><stop offset="0" stop-color="#ff7070"/><stop offset="1" stop-color="#c01010"/></radialGradient>
<radialGradient id="grayDot" cx="0.4" cy="0.35" r="0.7"><stop offset="0" stop-color="#9a9a9a"/><stop offset="1" stop-color="#505050"/></radialGradient>
</defs>
<g id="beaker">
<path d="M38.5,50 L39.5,56 C41,110 44,170 47,200 C49,212 58,218 70,220 C90,222.5 135,222.5 152,219.5 C168,216 174,208 176,196 C179,150 181,100 181.5,47 Z" fill="#eef3f5" stroke="#9aaab4" stroke-width="1"/>
<path d="M40,55 C41,85 42,110 43,131 C55,108 165,106 173,131 C176,105 178,80 180,52 C165,68 140,76 112,76 C84,76 52,70 40,55 Z" fill="url(#beakTop)"/>
<ellipse cx="110" cy="50" rx="72" ry="25.5" fill="#dce7eb" stroke="#5a6a7e" stroke-width="1"/>
<ellipse cx="110" cy="51.5" rx="67" ry="21.5" fill="#d6e3e8" stroke="#f2f6f8" stroke-width="1.2"/>
<path d="M38.5,51 C46,64 75,72 100,74.5 C106,75 110,76.5 114,76 C120,75 126,73 140,71 C160,68 176,61 181.5,48" fill="none" stroke="#1a2440" stroke-width="2.2"/>
<ellipse cx="111.6" cy="131" rx="62" ry="26.5" fill="url(#waterG)"/>
<path d="M44,132 C45,160 46,185 48,200 C50,212 58,218 70,220 C90,222.5 135,222.5 152,219.5 C168,216 174,208 176,196 C177,175 177,150 173,132 C168,150 140,157.5 111.6,157.5 C84,157.5 52,150 44,132 Z" fill="#f2f6f8" opacity="0.8"/>
<path d="M46,150 C47,175 48,195 52,206" fill="none" stroke="#e0b8b0" stroke-width="2" opacity="0.45"/>
<ellipse cx="112.7" cy="188" rx="51" ry="28" fill="url(#botG)"/>
<path d="M50,206 C56,216 70,220 112,221.5 C150,221 166,216 174,204" fill="none" stroke="#7a8a96" stroke-width="1.5" opacity="0.8"/>
<path d="M94,126 C96,132 100,140 103,134 C106,128 108,134 110,140 C112,136 114,132 116,139" fill="none" stroke="#6ad8ee" stroke-width="1.3"/>
<path d="M84,137 C88,141 82,146 88,150 C92,153 86,156 90,158" fill="none" stroke="#e2b67a" stroke-width="1.3"/>
<path d="M140,132 C136,138 146,140 138,146 C132,150 142,152 130,156" fill="none" stroke="#e2b67a" stroke-width="1.3"/>
<path d="M148,165 C146,175 150,185 145,200" fill="none" stroke="#6ad8ee" stroke-width="1.3"/>
<path d="M66,178 C75,173 80,172 86,170" fill="none" stroke="#6ad8ee" stroke-width="1.2"/>
<path d="M110,186 C120,182 124,194 118,198 C112,202 120,206 112,210" fill="none" stroke="#e2b67a" stroke-width="1.3"/>
<circle cx="126" cy="138" r="2.8" fill="#18a028"/><line x1="126" y1="138" x2="130.5" y2="138.0" stroke="#30d040" stroke-width="1.1"/><line x1="126" y1="138" x2="129.9" y2="140.3" stroke="#30d040" stroke-width="1.1"/><line x1="126" y1="138" x2="128.2" y2="141.9" stroke="#30d040" stroke-width="1.1"/><line x1="126" y1="138" x2="126.0" y2="142.5" stroke="#30d040" stroke-width="1.1"/><line x1="126" y1="138" x2="123.7" y2="141.9" stroke="#30d040" stroke-width="1.1"/><line x1="126" y1="138" x2="122.1" y2="140.2" stroke="#30d040" stroke-width="1.1"/><line x1="126" y1="138" x2="121.5" y2="138.0" stroke="#30d040" stroke-width="1.1"/><line x1="126" y1="138" x2="122.1" y2="135.7" stroke="#30d040" stroke-width="1.1"/><line x1="126" y1="138" x2="123.8" y2="134.1" stroke="#30d040" stroke-width="1.1"/><line x1="126" y1="138" x2="126.0" y2="133.5" stroke="#30d040" stroke-width="1.1"/><line x1="126" y1="138" x2="128.3" y2="134.1" stroke="#30d040" stroke-width="1.1"/><line x1="126" y1="138" x2="129.9" y2="135.8" stroke="#30d040" stroke-width="1.1"/>
<circle cx="89" cy="190" r="2.8" fill="#18a028"/><line x1="89" y1="190" x2="93.5" y2="190.0" stroke="#30d040" stroke-width="1.1"/><line x1="89" y1="190" x2="92.9" y2="192.3" stroke="#30d040" stroke-width="1.1"/><line x1="89" y1="190" x2="91.2" y2="193.9" stroke="#30d040" stroke-width="1.1"/><line x1="89" y1="190" x2="89.0" y2="194.5" stroke="#30d040" stroke-width="1.1"/><line x1="89" y1="190" x2="86.7" y2="193.9" stroke="#30d040" stroke-width="1.1"/><line x1="89" y1="190" x2="85.1" y2="192.2" stroke="#30d040" stroke-width="1.1"/><line x1="89" y1="190" x2="84.5" y2="190.0" stroke="#30d040" stroke-width="1.1"/><line x1="89" y1="190" x2="85.1" y2="187.7" stroke="#30d040" stroke-width="1.1"/><line x1="89" y1="190" x2="86.8" y2="186.1" stroke="#30d040" stroke-width="1.1"/><line x1="89" y1="190" x2="89.0" y2="185.5" stroke="#30d040" stroke-width="1.1"/><line x1="89" y1="190" x2="91.3" y2="186.1" stroke="#30d040" stroke-width="1.1"/><line x1="89" y1="190" x2="92.9" y2="187.8" stroke="#30d040" stroke-width="1.1"/>
<circle cx="136" cy="186" r="2.8" fill="#18a028"/><line x1="136" y1="186" x2="140.5" y2="186.0" stroke="#30d040" stroke-width="1.1"/><line x1="136" y1="186" x2="139.9" y2="188.3" stroke="#30d040" stroke-width="1.1"/><line x1="136" y1="186" x2="138.2" y2="189.9" stroke="#30d040" stroke-width="1.1"/><line x1="136" y1="186" x2="136.0" y2="190.5" stroke="#30d040" stroke-width="1.1"/><line x1="136" y1="186" x2="133.7" y2="189.9" stroke="#30d040" stroke-width="1.1"/><line x1="136" y1="186" x2="132.1" y2="188.2" stroke="#30d040" stroke-width="1.1"/><line x1="136" y1="186" x2="131.5" y2="186.0" stroke="#30d040" stroke-width="1.1"/><line x1="136" y1="186" x2="132.1" y2="183.7" stroke="#30d040" stroke-width="1.1"/><line x1="136" y1="186" x2="133.8" y2="182.1" stroke="#30d040" stroke-width="1.1"/><line x1="136" y1="186" x2="136.0" y2="181.5" stroke="#30d040" stroke-width="1.1"/><line x1="136" y1="186" x2="138.3" y2="182.1" stroke="#30d040" stroke-width="1.1"/><line x1="136" y1="186" x2="139.9" y2="183.8" stroke="#30d040" stroke-width="1.1"/>
<circle cx="90" cy="171" r="3" fill="url(#greenDot)"/>
<circle cx="108" cy="176" r="3" fill="url(#greenDot)"/>
<circle cx="108" cy="188" r="3" fill="url(#greenDot)"/>
<circle cx="97" cy="162" r="2.8" fill="url(#redDot)"/>
<circle cx="157" cy="178" r="2.8" fill="url(#redDot)"/>
<ellipse cx="79" cy="148" rx="6" ry="2.2" transform="rotate(20 79 148)" fill="#a884e8"/>
<ellipse cx="127" cy="174" rx="6" ry="2.2" transform="rotate(15 127 174)" fill="#a884e8"/>
<ellipse cx="73" cy="191" rx="6" ry="2.2" transform="rotate(-20 73 191)" fill="#a884e8"/>
</g>
<filter id="blur4" x="-50%" y="-50%" width="200%" height="200%"><feGaussianBlur stdDeviation="4"/></filter>
<path d="M576,80 L584,100 L562,110 L556,100 Z" fill="#8a7af4" opacity="0.55" filter="url(#blur4)"/>
<path d="M648,80 L640,100 L662,110 L668,100 Z" fill="#8a7af4" opacity="0.55" filter="url(#blur4)"/>
<path d="M584,97 L640,97 L648,106 L576,106 Z" fill="#8070f2" opacity="0.4" filter="url(#blur4)"/>
<path d="M573.5,64 L650.6,64 L647,101.4 L579.4,101.4 Z" fill="#b89098"/>
<rect x="573.5" y="64" width="77" height="4.4" fill="#6488b0"/><rect x="594" y="64.5" width="12" height="3" fill="#8cc4ec" opacity="0.8"/>
<path d="M577.2,69.8 L644.5,69.8 L643,100 L580.5,100 Z" fill="url(#lampG)" stroke="#14146a" stroke-width="1"/>
<ellipse cx="593.4" cy="75.3" rx="3.8" ry="1.8" transform="rotate(-8 593.4 75.3)" fill="#b4b0f8" opacity="0.9"/>
<ellipse cx="611.4" cy="74.6" rx="4.4" ry="2.2" transform="rotate(0 611.4 74.6)" fill="#b4b0f8" opacity="0.9"/>
<ellipse cx="629.8" cy="75.3" rx="3.8" ry="1.8" transform="rotate(8 629.8 75.3)" fill="#b4b0f8" opacity="0.9"/>
<ellipse cx="593.4" cy="82.7" rx="4.4" ry="3.1" transform="rotate(-10 593.4 82.7)" fill="#b4b0f8" opacity="0.9"/>
<ellipse cx="611.4" cy="82.4" rx="4.4" ry="3.4" transform="rotate(0 611.4 82.4)" fill="#b4b0f8" opacity="0.9"/>
<ellipse cx="629.8" cy="82.7" rx="4.4" ry="3.1" transform="rotate(10 629.8 82.7)" fill="#b4b0f8" opacity="0.9"/>
<ellipse cx="594.4" cy="92.2" rx="3.2" ry="2.6" transform="rotate(-30 594.4 92.2)" fill="#b4b0f8" opacity="0.9"/>
<ellipse cx="611.4" cy="92" rx="4.4" ry="3" transform="rotate(0 611.4 92)" fill="#b4b0f8" opacity="0.9"/>
<ellipse cx="627.5" cy="92.2" rx="3.4" ry="2.6" transform="rotate(20 627.5 92.2)" fill="#b4b0f8" opacity="0.9"/>
<path d="M590,100 L611,93 L632,100 Z" fill="#a070f0" opacity="0.5"/>
<g transform="translate(193,119) rotate(-1.13)"><path d="M6,-1.5 C30,-3 43.022604653972735,-4 86.02260465397273,-3.5 L80.02260465397273,-12.5 L117.02260465397273,0 L78.02260465397273,13.5 L87.02260465397273,2.5 C43.022604653972735,3.5 30,2.5 10,3 C4,4 2,8 12,14 C4,12 -2,7 0,2.5 C1,0 3,-1 6,-1.5 Z" fill="url(#arrowG)" stroke="#9a9a9a" stroke-width="0.4"/><path d="M10,-1 C40,-3 53.022604653972735,-4 93.02260465397273,-2.5" fill="none" stroke="#f4f4f4" stroke-width="1" opacity="0.8"/></g>
<g transform="translate(558,121) rotate(-1.69)"><path d="M6,-1.5 C30,-3 41.45007579036054,-4 84.45007579036054,-3.5 L78.45007579036054,-12.5 L115.45007579036054,0 L76.45007579036054,13.5 L85.45007579036054,2.5 C41.45007579036054,3.5 30,2.5 10,3 C4,4 2,8 12,14 C4,12 -2,7 0,2.5 C1,0 3,-1 6,-1.5 Z" fill="url(#arrowG)" stroke="#9a9a9a" stroke-width="0.4"/><path d="M10,-1 C40,-3 51.45007579036054,-4 91.45007579036054,-2.5" fill="none" stroke="#f4f4f4" stroke-width="1" opacity="0.8"/></g>
<polygon points="434.0,24.0 555.0,100.0 550.0,131.0 439.0,241.0 318.0,146.0 311.0,109.0" fill="url(#sideG)" stroke="#a4cdec" stroke-width="3" stroke-linejoin="round"/>
<line x1="425.6" y1="211.9" x2="431.4" y2="215.8" stroke="#1e3a60" stroke-width="0.8" opacity="0.55" stroke-linecap="round"/>
<line x1="447.3" y1="218.8" x2="449.8" y2="216.0" stroke="#4a7eb6" stroke-width="1.4" opacity="0.37" stroke-linecap="round"/>
<line x1="511.3" y1="165.2" x2="514.5" y2="162.4" stroke="#ffffff" stroke-width="1.2" opacity="0.37" stroke-linecap="round"/>
<line x1="316.3" y1="122.6" x2="321.7" y2="126.3" stroke="#4a7eb6" stroke-width="1.2" opacity="0.61" stroke-linecap="round"/>
<line x1="370.4" y1="177.6" x2="380.1" y2="182.8" stroke="#4a7eb6" stroke-width="1.5" opacity="0.63" stroke-linecap="round"/>
<line x1="347.1" y1="143.8" x2="355.5" y2="147.3" stroke="#ffffff" stroke-width="1.5" opacity="0.50" stroke-linecap="round"/>
<line x1="437.1" y1="231.1" x2="443.5" y2="223.1" stroke="#ffffff" stroke-width="1.7" opacity="0.51" stroke-linecap="round"/>
<line x1="408.7" y1="202.9" x2="411.9" y2="204.6" stroke="#ffffff" stroke-width="1.7" opacity="0.65" stroke-linecap="round"/>
<line x1="324.8" y1="128.8" x2="333.4" y2="132.4" stroke="#ffffff" stroke-width="1.2" opacity="0.53" stroke-linecap="round"/>
<line x1="331.8" y1="153.6" x2="334.8" y2="156.0" stroke="#ffffff" stroke-width="0.8" opacity="0.46" stroke-linecap="round"/>
<line x1="471.4" y1="196.9" x2="475.4" y2="194.4" stroke="#ffffff" stroke-width="1.5" opacity="0.61" stroke-linecap="round"/>
<line x1="343.5" y1="172.2" x2="351.6" y2="176.5" stroke="#ffffff" stroke-width="0.9" opacity="0.38" stroke-linecap="round"/>
<line x1="344.1" y1="156.1" x2="348.9" y2="159.7" stroke="#ffffff" stroke-width="1.7" opacity="0.54" stroke-linecap="round"/>
<line x1="457.9" y1="212.4" x2="464.0" y2="204.2" stroke="#4a7eb6" stroke-width="0.9" opacity="0.43" stroke-linecap="round"/>
<line x1="459.9" y1="214.0" x2="468.5" y2="208.9" stroke="#1e3a60" stroke-width="1.1" opacity="0.39" stroke-linecap="round"/>
<line x1="346.3" y1="173.1" x2="350.2" y2="176.4" stroke="#4a7eb6" stroke-width="1.3" opacity="0.47" stroke-linecap="round"/>
<line x1="324.2" y1="147.9" x2="330.9" y2="151.3" stroke="#4a7eb6" stroke-width="1.3" opacity="0.46" stroke-linecap="round"/>
<line x1="433.7" y1="200.6" x2="438.4" y2="196.0" stroke="#ffffff" stroke-width="0.8" opacity="0.50" stroke-linecap="round"/>
<line x1="475.7" y1="164.5" x2="485.4" y2="159.6" stroke="#1e3a60" stroke-width="1.4" opacity="0.58" stroke-linecap="round"/>
<line x1="313.4" y1="112.1" x2="319.2" y2="118.4" stroke="#4a7eb6" stroke-width="0.6" opacity="0.60" stroke-linecap="round"/>
<line x1="354.3" y1="169.2" x2="356.7" y2="171.9" stroke="#1e3a60" stroke-width="1.4" opacity="0.71" stroke-linecap="round"/>
<line x1="527.5" y1="141.7" x2="532.6" y2="138.8" stroke="#1e3a60" stroke-width="1.6" opacity="0.70" stroke-linecap="round"/>
<line x1="420.1" y1="217.3" x2="426.6" y2="222.1" stroke="#ffffff" stroke-width="1.2" opacity="0.59" stroke-linecap="round"/>
<line x1="434.5" y1="221.3" x2="440.7" y2="227.6" stroke="#ffffff" stroke-width="1.4" opacity="0.58" stroke-linecap="round"/>
<line x1="326.9" y1="154.5" x2="329.3" y2="156.7" stroke="#1e3a60" stroke-width="1.1" opacity="0.44" stroke-linecap="round"/>
<line x1="506.9" y1="153.2" x2="511.3" y2="150.8" stroke="#ffffff" stroke-width="0.9" opacity="0.62" stroke-linecap="round"/>
<line x1="420.2" y1="192.7" x2="425.2" y2="196.9" stroke="#4a7eb6" stroke-width="1.0" opacity="0.62" stroke-linecap="round"/>
<line x1="410.4" y1="196.2" x2="417.2" y2="203.5" stroke="#ffffff" stroke-width="1.2" opacity="0.48" stroke-linecap="round"/>
<line x1="414.6" y1="201.8" x2="420.8" y2="207.9" stroke="#4a7eb6" stroke-width="0.9" opacity="0.42" stroke-linecap="round"/>
<line x1="338.5" y1="139.6" x2="345.2" y2="143.9" stroke="#ffffff" stroke-width="0.9" opacity="0.69" stroke-linecap="round"/>
<line x1="442.6" y1="205.9" x2="448.6" y2="197.9" stroke="#ffffff" stroke-width="1.4" opacity="0.58" stroke-linecap="round"/>
<line x1="318.8" y1="147.0" x2="324.8" y2="149.7" stroke="#ffffff" stroke-width="1.5" opacity="0.44" stroke-linecap="round"/>
<line x1="386.2" y1="164.0" x2="392.9" y2="168.4" stroke="#1e3a60" stroke-width="1.5" opacity="0.73" stroke-linecap="round"/>
<line x1="489.8" y1="156.2" x2="491.9" y2="154.0" stroke="#ffffff" stroke-width="1.4" opacity="0.42" stroke-linecap="round"/>
<line x1="396.7" y1="183.3" x2="403.1" y2="187.9" stroke="#4a7eb6" stroke-width="1.0" opacity="0.67" stroke-linecap="round"/>
<line x1="546.2" y1="108.9" x2="549.7" y2="106.8" stroke="#ffffff" stroke-width="1.3" opacity="0.71" stroke-linecap="round"/>
<line x1="420.3" y1="208.6" x2="427.9" y2="215.8" stroke="#ffffff" stroke-width="1.3" opacity="0.43" stroke-linecap="round"/>
<line x1="510.0" y1="161.5" x2="513.7" y2="158.7" stroke="#4a7eb6" stroke-width="1.7" opacity="0.74" stroke-linecap="round"/>
<line x1="473.2" y1="194.7" x2="481.6" y2="189.6" stroke="#ffffff" stroke-width="0.7" opacity="0.53" stroke-linecap="round"/>
<line x1="492.3" y1="176.1" x2="497.6" y2="168.2" stroke="#ffffff" stroke-width="1.5" opacity="0.42" stroke-linecap="round"/>
<line x1="333.3" y1="156.9" x2="339.8" y2="159.9" stroke="#4a7eb6" stroke-width="1.5" opacity="0.63" stroke-linecap="round"/>
<line x1="546.5" y1="119.2" x2="549.4" y2="115.4" stroke="#1e3a60" stroke-width="0.9" opacity="0.64" stroke-linecap="round"/>
<line x1="533.9" y1="130.8" x2="538.2" y2="127.3" stroke="#ffffff" stroke-width="1.5" opacity="0.71" stroke-linecap="round"/>
<line x1="433.3" y1="228.7" x2="439.4" y2="233.1" stroke="#ffffff" stroke-width="1.2" opacity="0.55" stroke-linecap="round"/>
<line x1="551.0" y1="103.7" x2="556.0" y2="100.0" stroke="#4a7eb6" stroke-width="1.2" opacity="0.55" stroke-linecap="round"/>
<line x1="497.4" y1="145.3" x2="505.6" y2="138.5" stroke="#4a7eb6" stroke-width="0.9" opacity="0.54" stroke-linecap="round"/>
<line x1="411.6" y1="197.1" x2="416.2" y2="202.1" stroke="#ffffff" stroke-width="0.8" opacity="0.60" stroke-linecap="round"/>
<line x1="527.1" y1="124.7" x2="530.0" y2="121.1" stroke="#ffffff" stroke-width="1.4" opacity="0.48" stroke-linecap="round"/>
<line x1="327.8" y1="146.3" x2="330.8" y2="148.9" stroke="#1e3a60" stroke-width="0.9" opacity="0.43" stroke-linecap="round"/>
<line x1="478.4" y1="175.0" x2="483.7" y2="170.1" stroke="#ffffff" stroke-width="0.8" opacity="0.60" stroke-linecap="round"/>
<line x1="534.8" y1="130.2" x2="542.6" y2="124.2" stroke="#ffffff" stroke-width="1.4" opacity="0.67" stroke-linecap="round"/>
<line x1="470.7" y1="176.3" x2="474.9" y2="174.1" stroke="#4a7eb6" stroke-width="1.6" opacity="0.40" stroke-linecap="round"/>
<line x1="347.2" y1="164.0" x2="356.0" y2="167.9" stroke="#ffffff" stroke-width="1.5" opacity="0.40" stroke-linecap="round"/>
<line x1="317.9" y1="142.0" x2="325.4" y2="145.7" stroke="#4a7eb6" stroke-width="1.7" opacity="0.40" stroke-linecap="round"/>
<line x1="494.0" y1="174.1" x2="497.6" y2="171.4" stroke="#ffffff" stroke-width="0.7" opacity="0.36" stroke-linecap="round"/>
<line x1="501.4" y1="158.5" x2="504.3" y2="155.0" stroke="#ffffff" stroke-width="1.5" opacity="0.75" stroke-linecap="round"/>
<line x1="438.5" y1="191.4" x2="444.5" y2="188.7" stroke="#4a7eb6" stroke-width="1.0" opacity="0.54" stroke-linecap="round"/>
<line x1="505.2" y1="152.2" x2="510.3" y2="145.3" stroke="#4a7eb6" stroke-width="0.8" opacity="0.53" stroke-linecap="round"/>
<line x1="456.7" y1="191.8" x2="461.3" y2="186.4" stroke="#ffffff" stroke-width="1.6" opacity="0.67" stroke-linecap="round"/>
<line x1="508.6" y1="164.3" x2="514.0" y2="158.7" stroke="#1e3a60" stroke-width="1.7" opacity="0.67" stroke-linecap="round"/>
<clipPath id="cLs0"><polygon points="311.0,109.0 430.0,193.0 439.0,241.0 318.0,146.0"/></clipPath>
<g clip-path="url(#cLs0)"><g transform="rotate(35 436.5 132.5)"><rect x="256.5" y="-47.5" width="360" height="360" filter="url(#iceW)" opacity="0.65"/><rect x="256.5" y="-47.5" width="360" height="360" filter="url(#iceD)" opacity="0.45"/></g></g>
<clipPath id="cRs0"><polygon points="430.0,193.0 555.0,100.0 550.0,131.0 439.0,241.0"/></clipPath>
<g clip-path="url(#cRs0)"><g transform="rotate(-36 436.5 132.5)"><rect x="256.5" y="-47.5" width="360" height="360" filter="url(#iceW)" opacity="0.65"/><rect x="256.5" y="-47.5" width="360" height="360" filter="url(#iceD)" opacity="0.45"/></g></g>
<polygon points="434.0,24.0 555.0,100.0 430.0,193.0 311.0,109.0" fill="url(#rimG)"/>
<clipPath id="cTop0"><polygon points="434.0,24.0 555.0,100.0 430.0,193.0 311.0,109.0"/></clipPath>
<g clip-path="url(#cTop0)"><g transform="rotate(-35 436.5 132.5)"><rect x="256.5" y="-47.5" width="360" height="360" filter="url(#iceW)" opacity="0.75"/></g><g transform="rotate(33 436.5 132.5)"><rect x="256.5" y="-47.5" width="360" height="360" filter="url(#iceW)" opacity="0.6"/><rect x="256.5" y="-47.5" width="360" height="360" filter="url(#iceD)" opacity="0.35"/></g></g>
<line x1="451.2" y1="163.6" x2="456.2" y2="161.4" stroke="#cfeafc" stroke-width="1.9" opacity="0.6" stroke-linecap="round"/>
<line x1="408.3" y1="53.5" x2="411.5" y2="55.2" stroke="#cfeafc" stroke-width="2.0" opacity="0.6" stroke-linecap="round"/>
<line x1="427.9" y1="36.4" x2="432.4" y2="41.8" stroke="#ffffff" stroke-width="1.6" opacity="0.6" stroke-linecap="round"/>
<line x1="477.9" y1="159.9" x2="484.6" y2="156.4" stroke="#cfeafc" stroke-width="0.8" opacity="0.6" stroke-linecap="round"/>
<line x1="340.5" y1="121.1" x2="344.8" y2="122.6" stroke="#ffffff" stroke-width="1.2" opacity="0.6" stroke-linecap="round"/>
<line x1="376.1" y1="137.9" x2="382.0" y2="134.0" stroke="#cfeafc" stroke-width="1.3" opacity="0.6" stroke-linecap="round"/>
<line x1="472.4" y1="61.6" x2="478.1" y2="59.3" stroke="#2a5688" stroke-width="1.3" opacity="0.6" stroke-linecap="round"/>
<line x1="454.8" y1="164.1" x2="462.0" y2="166.6" stroke="#2a5688" stroke-width="1.6" opacity="0.6" stroke-linecap="round"/>
<line x1="355.0" y1="131.0" x2="363.4" y2="134.0" stroke="#cfeafc" stroke-width="0.9" opacity="0.6" stroke-linecap="round"/>
<line x1="473.5" y1="68.1" x2="480.2" y2="71.5" stroke="#ffffff" stroke-width="0.9" opacity="0.6" stroke-linecap="round"/>
<line x1="518.9" y1="116.5" x2="526.4" y2="114.1" stroke="#2a5688" stroke-width="0.9" opacity="0.6" stroke-linecap="round"/>
<line x1="342.2" y1="96.1" x2="346.1" y2="91.9" stroke="#2a5688" stroke-width="1.3" opacity="0.6" stroke-linecap="round"/>
<line x1="495.0" y1="147.7" x2="498.2" y2="150.7" stroke="#ffffff" stroke-width="1.9" opacity="0.6" stroke-linecap="round"/>
<line x1="458.2" y1="170.1" x2="461.2" y2="168.9" stroke="#ffffff" stroke-width="1.1" opacity="0.6" stroke-linecap="round"/>
<line x1="388.1" y1="145.8" x2="395.7" y2="142.1" stroke="#ffffff" stroke-width="1.1" opacity="0.6" stroke-linecap="round"/>
<line x1="489.3" y1="66.2" x2="493.9" y2="68.4" stroke="#2a5688" stroke-width="1.8" opacity="0.6" stroke-linecap="round"/>
<line x1="334.4" y1="112.7" x2="340.4" y2="108.3" stroke="#ffffff" stroke-width="1.0" opacity="0.6" stroke-linecap="round"/>
<polygon points="434.0,35.0 544.0,102.0 431.0,184.0 321.0,110.0" fill="url(#faceG)" stroke="#6e9ed0" stroke-width="3" stroke-linejoin="round"/>
<clipPath id="clip0"><polygon points="434.0,31.0 548.0,101.0 431.0,188.0 317.0,109.0"/></clipPath>
<g clip-path="url(#clip0)">
<path d="M366.6,103.6 C363.0,102.2 351.0,96.0 344.7,95.5 C338.4,95.0 330.0,97.0 328.6,100.5 C327.3,104.0 333.9,111.3 336.7,116.4 C339.5,121.5 340.0,129.3 345.5,131.0 C351.0,132.7 362.5,125.4 369.9,126.4 C377.3,127.3 382.9,133.3 389.7,136.5 C396.5,139.8 405.4,141.7 410.5,145.8 C415.7,149.8 415.8,156.7 420.8,161.0 C425.8,165.3 433.3,170.4 440.4,171.4 C447.4,172.4 456.5,169.7 463.1,167.1 C469.7,164.5 477.1,157.8 479.9,155.9" fill="none" stroke="#7ce0f0" stroke-width="1.5" stroke-linecap="round"/>
<path d="M408.0,54.8 C404.6,55.9 390.2,57.4 387.9,61.2 C385.6,65.0 389.6,73.2 394.2,77.4 C398.7,81.7 407.5,84.4 415.1,86.6 C422.6,88.8 431.7,88.6 439.5,90.5 C447.3,92.4 455.1,94.8 462.0,97.8 C469.0,100.8 474.6,105.1 481.2,108.5 C487.7,111.9 494.7,115.0 501.4,118.3 C508.1,121.6 517.2,127.3 521.3,128.4 C525.5,129.5 523.6,128.2 526.3,125.1 C529.0,122.1 535.9,114.3 537.3,109.8 C538.8,105.4 535.4,100.3 535.0,98.4" fill="none" stroke="#7ce0f0" stroke-width="1.5" stroke-linecap="round"/>
<path d="M495.9,86.1 C496.9,84.4 505.0,78.7 502.0,76.2 C499.1,73.8 486.1,72.8 478.1,71.2 C470.1,69.6 462.1,67.6 453.9,66.8 C445.7,66.0 434.6,68.9 428.7,66.2 C422.8,63.6 419.3,55.7 418.3,51.0 C417.3,46.3 419.0,38.3 422.9,38.0 C426.8,37.6 435.6,47.1 441.9,48.8 C448.1,50.5 461.1,47.1 460.3,48.1 C459.5,49.2 444.4,52.3 437.2,55.2 C430.0,58.2 421.5,61.3 417.2,65.8 C412.9,70.3 412.3,79.5 411.3,82.3" fill="none" stroke="#7ce0f0" stroke-width="1.5" stroke-linecap="round"/>
<path d="M518.6,122.4 C519.3,119.6 519.9,109.6 522.7,105.7 C525.5,101.7 532.0,97.2 535.3,98.6 C538.7,100.0 542.7,114.2 542.8,114.2 C542.8,114.3 539.7,103.3 535.8,99.0 C531.9,94.6 524.7,91.5 519.5,88.0 C514.2,84.4 509.4,81.2 504.2,77.7 C499.0,74.2 495.1,69.4 488.4,67.0 C481.6,64.7 471.8,63.0 463.8,63.6 C455.8,64.1 447.8,67.5 440.3,70.2 C432.9,72.8 426.6,78.8 419.1,79.5 C411.6,80.2 399.2,75.2 395.2,74.4" fill="none" stroke="#7ce0f0" stroke-width="1.5" stroke-linecap="round"/>
<path d="M424.1,62.8 C427.6,61.2 441.5,57.1 444.9,52.9 C448.3,48.7 447.1,40.8 444.6,37.6 C442.0,34.4 430.9,31.6 429.3,33.7 C427.6,35.8 433.0,44.6 434.7,50.1 C436.3,55.6 434.4,63.1 439.1,66.6 C443.9,70.2 455.4,69.5 463.1,71.6 C470.8,73.7 478.5,78.3 485.3,79.3 C492.2,80.3 499.5,75.5 504.3,77.8 C509.2,80.1 515.0,88.2 514.3,93.2 C513.5,98.1 501.4,102.2 500.1,107.3 C498.8,112.4 505.2,120.9 506.3,123.6" fill="none" stroke="#7ce0f0" stroke-width="1.5" stroke-linecap="round"/>
<path d="M428.4,129.1 C424.4,128.2 411.5,126.7 404.6,123.9 C397.7,121.0 394.1,113.4 387.0,112.0 C380.0,110.6 370.3,116.1 362.3,115.7 C354.3,115.2 345.8,111.2 339.0,109.4 C332.3,107.7 322.9,103.2 321.9,105.0 C320.9,106.7 327.0,117.6 333.1,119.9 C339.2,122.3 351.2,121.1 358.3,118.9 C365.5,116.6 372.9,111.5 376.0,106.6 C379.1,101.8 374.9,95.1 377.0,89.8 C379.2,84.4 382.9,78.3 388.7,74.6 C394.4,70.9 407.9,68.7 411.7,67.5" fill="none" stroke="#7ce0f0" stroke-width="1.5" stroke-linecap="round"/>
<path d="M370.7,137.8 C366.9,136.9 348.5,135.3 347.9,132.7 C347.4,130.0 362.3,126.0 367.4,121.6 C372.4,117.2 375.4,111.5 378.0,106.2 C380.7,100.9 381.0,95.1 383.3,89.7 C385.6,84.2 386.2,76.5 391.9,73.7 C397.5,70.9 409.0,72.0 417.1,72.8 C425.2,73.6 433.4,79.4 440.6,78.6 C447.8,77.8 457.6,72.4 460.4,67.9 C463.2,63.3 461.4,55.5 457.4,51.2 C453.4,46.9 440.9,45.1 436.4,42.1 C431.8,39.1 431.1,34.7 430.0,33.2" fill="none" stroke="#7ce0f0" stroke-width="1.5" stroke-linecap="round"/>
<path d="M491.7,112.0 C495.8,111.6 509.5,108.1 516.6,109.4 C523.8,110.7 532.3,120.8 534.4,119.8 C536.5,118.8 531.7,108.5 529.4,103.3 C527.1,98.2 526.1,90.5 520.6,88.7 C515.0,86.9 501.8,89.3 495.9,92.5 C490.0,95.7 490.8,104.0 485.3,108.0 C479.8,111.9 470.6,115.7 463.0,116.1 C455.3,116.5 444.9,113.9 439.4,110.4 C434.0,106.8 431.1,100.2 430.2,94.8 C429.3,89.4 429.6,82.2 434.0,78.1 C438.4,74.0 452.9,71.7 456.7,70.4" fill="none" stroke="#7ce0f0" stroke-width="1.5" stroke-linecap="round"/>
<path d="M495.1,132.3 C496.4,129.6 498.2,120.6 502.8,116.2 C507.5,111.7 517.0,108.2 523.0,105.7 C529.0,103.2 535.4,100.0 539.1,101.1 C542.7,102.3 548.1,110.0 545.0,112.7 C542.0,115.5 528.3,115.2 520.7,117.5 C513.1,119.9 503.2,122.5 499.4,126.8 C495.5,131.2 499.0,140.1 497.6,143.7 C496.2,147.3 496.5,147.2 491.2,148.4 C486.0,149.7 474.5,149.9 466.2,151.0 C457.9,152.0 449.8,154.4 441.5,154.7 C433.2,155.0 420.6,153.0 416.5,152.7" fill="none" stroke="#7ce0f0" stroke-width="1.5" stroke-linecap="round"/>
<path d="M375.4,88.9 C372.8,91.1 365.8,98.4 359.6,102.2 C353.5,106.0 342.2,107.9 338.5,111.7 C334.8,115.6 334.9,125.4 337.2,125.5 C339.5,125.5 351.7,116.5 352.3,111.7 C352.9,107.0 342.7,100.2 340.9,96.9 C339.0,93.6 339.3,90.5 341.3,92.1 C343.4,93.7 347.1,104.1 353.3,106.8 C359.5,109.5 371.9,110.5 378.4,108.4 C384.8,106.3 385.5,96.0 391.9,94.0 C398.3,92.0 408.4,96.1 416.8,96.4 C425.1,96.8 437.8,96.2 442.0,96.2" fill="none" stroke="#7ce0f0" stroke-width="1.5" stroke-linecap="round"/>
<path d="M450.2,145.3 C448.0,142.9 443.5,134.2 437.4,130.9 C431.3,127.7 421.2,125.2 413.6,125.7 C405.9,126.3 399.4,132.6 391.6,134.3 C383.7,135.9 373.6,135.7 366.4,135.5 C359.1,135.2 347.4,134.5 348.1,132.8 C348.9,131.1 363.0,127.0 371.0,125.3 C378.9,123.6 387.9,122.0 395.9,122.5 C404.0,123.1 412.0,126.0 419.2,128.8 C426.3,131.5 431.5,136.7 438.9,139.0 C446.3,141.3 456.9,139.8 463.5,142.6 C470.1,145.4 476.1,153.7 478.6,155.9" fill="none" stroke="#7ce0f0" stroke-width="1.5" stroke-linecap="round"/>
<path d="M490.7,75.3 C493.8,76.3 504.0,77.8 509.4,81.2 C514.7,84.5 517.7,90.8 522.7,95.3 C527.6,99.8 535.7,104.7 538.8,108.0 C542.0,111.3 545.3,113.4 541.6,115.0 C537.9,116.6 524.4,115.5 516.6,117.4 C508.8,119.2 500.6,122.2 494.7,126.1 C488.9,130.0 483.0,136.3 481.5,140.7 C480.0,145.0 487.4,152.5 485.6,152.2 C483.8,151.8 477.2,141.9 470.8,138.7 C464.3,135.6 454.8,135.3 447.1,133.3 C439.3,131.2 428.1,127.5 424.3,126.3" fill="none" stroke="#dab688" stroke-width="1.5" stroke-linecap="round"/>
<path d="M414.8,137.7 C411.1,139.2 397.2,142.6 392.7,146.3 C388.3,150.0 385.9,155.7 388.3,159.8 C390.6,163.9 402.9,168.0 407.0,170.8 C411.2,173.6 408.1,175.3 413.3,176.7 C418.5,178.0 434.7,177.5 438.2,179.1 C441.7,180.7 438.4,186.5 434.3,186.2 C430.3,185.8 419.1,179.8 413.9,177.0 C408.6,174.2 402.6,173.2 402.7,169.5 C402.8,165.7 408.8,158.2 414.7,154.5 C420.5,150.8 432.8,151.3 437.8,147.4 C442.9,143.6 443.7,133.9 444.9,131.2" fill="none" stroke="#dab688" stroke-width="1.5" stroke-linecap="round"/>
<path d="M404.9,103.4 C408.1,105.1 416.8,111.9 424.2,113.9 C431.6,116.0 443.0,113.2 449.2,115.9 C455.4,118.7 457.1,125.8 461.6,130.4 C466.2,135.1 474.1,139.1 476.5,143.8 C478.8,148.6 479.4,154.8 475.7,158.8 C471.9,162.7 461.4,165.0 453.8,167.5 C446.2,170.0 437.3,172.5 430.1,173.7 C423.0,174.9 416.8,176.6 410.6,174.8 C404.4,173.0 395.0,167.7 393.0,163.0 C391.0,158.3 400.0,151.6 398.7,146.5 C397.4,141.4 387.4,134.8 385.1,132.5" fill="none" stroke="#dab688" stroke-width="1.5" stroke-linecap="round"/>
<path d="M459.2,67.5 C460.8,70.1 462.9,80.5 468.7,83.0 C474.5,85.5 485.9,81.5 493.9,82.5 C501.9,83.6 510.3,87.0 516.8,89.4 C523.2,91.8 532.2,93.2 532.8,96.9 C533.3,100.6 522.9,106.4 519.9,111.6 C516.8,116.8 515.5,124.6 514.7,128.1 C513.8,131.6 517.7,134.0 515.0,132.7 C512.3,131.3 501.1,125.0 498.5,120.2 C495.8,115.3 499.4,108.9 499.2,103.3 C499.0,97.7 498.9,92.0 497.3,86.5 C495.6,81.1 490.8,73.2 489.6,70.6" fill="none" stroke="#dab688" stroke-width="1.5" stroke-linecap="round"/>
</g>
<ellipse cx="417.4" cy="107.1" rx="4.5" ry="1.6" transform="rotate(-23 417.4 107.1)" fill="#b494ec"/>
<ellipse cx="447.1" cy="68.4" rx="4.5" ry="1.6" transform="rotate(-1 447.1 68.4)" fill="#b494ec"/>
<ellipse cx="471.6" cy="87.7" rx="4.5" ry="1.6" transform="rotate(8 471.6 87.7)" fill="#b494ec"/>
<ellipse cx="452.1" cy="109.1" rx="4.5" ry="1.6" transform="rotate(38 452.1 109.1)" fill="#b494ec"/>
<ellipse cx="494.2" cy="116.7" rx="4.5" ry="1.6" transform="rotate(35 494.2 116.7)" fill="#b494ec"/>
<ellipse cx="386.2" cy="90.5" rx="4.5" ry="1.6" transform="rotate(-38 386.2 90.5)" fill="#b494ec"/>
<circle cx="448.6" cy="152.6" r="3" fill="#1aa82a"/><line x1="448.6" y1="152.6" x2="453.6" y2="152.6" stroke="#30d040" stroke-width="1.2"/><line x1="448.6" y1="152.6" x2="452.9" y2="155.1" stroke="#30d040" stroke-width="1.2"/><line x1="448.6" y1="152.6" x2="451.1" y2="156.9" stroke="#30d040" stroke-width="1.2"/><line x1="448.6" y1="152.6" x2="448.6" y2="157.6" stroke="#30d040" stroke-width="1.2"/><line x1="448.6" y1="152.6" x2="446.1" y2="156.9" stroke="#30d040" stroke-width="1.2"/><line x1="448.6" y1="152.6" x2="444.2" y2="155.1" stroke="#30d040" stroke-width="1.2"/><line x1="448.6" y1="152.6" x2="443.6" y2="152.6" stroke="#30d040" stroke-width="1.2"/><line x1="448.6" y1="152.6" x2="444.2" y2="150.1" stroke="#30d040" stroke-width="1.2"/><line x1="448.6" y1="152.6" x2="446.1" y2="148.3" stroke="#30d040" stroke-width="1.2"/><line x1="448.6" y1="152.6" x2="448.6" y2="147.6" stroke="#30d040" stroke-width="1.2"/><line x1="448.6" y1="152.6" x2="451.1" y2="148.3" stroke="#30d040" stroke-width="1.2"/><line x1="448.6" y1="152.6" x2="452.9" y2="150.1" stroke="#30d040" stroke-width="1.2"/>
<circle cx="430.7" cy="141.9" r="3" fill="#1aa82a"/><line x1="430.7" y1="141.9" x2="435.7" y2="141.9" stroke="#30d040" stroke-width="1.2"/><line x1="430.7" y1="141.9" x2="435.1" y2="144.4" stroke="#30d040" stroke-width="1.2"/><line x1="430.7" y1="141.9" x2="433.2" y2="146.2" stroke="#30d040" stroke-width="1.2"/><line x1="430.7" y1="141.9" x2="430.7" y2="146.9" stroke="#30d040" stroke-width="1.2"/><line x1="430.7" y1="141.9" x2="428.2" y2="146.2" stroke="#30d040" stroke-width="1.2"/><line x1="430.7" y1="141.9" x2="426.4" y2="144.4" stroke="#30d040" stroke-width="1.2"/><line x1="430.7" y1="141.9" x2="425.7" y2="141.9" stroke="#30d040" stroke-width="1.2"/><line x1="430.7" y1="141.9" x2="426.4" y2="139.4" stroke="#30d040" stroke-width="1.2"/><line x1="430.7" y1="141.9" x2="428.2" y2="137.6" stroke="#30d040" stroke-width="1.2"/><line x1="430.7" y1="141.9" x2="430.7" y2="136.9" stroke="#30d040" stroke-width="1.2"/><line x1="430.7" y1="141.9" x2="433.2" y2="137.6" stroke="#30d040" stroke-width="1.2"/><line x1="430.7" y1="141.9" x2="435.1" y2="139.4" stroke="#30d040" stroke-width="1.2"/>
<circle cx="435.8" cy="82.1" r="3" fill="#1aa82a"/><line x1="435.8" y1="82.1" x2="440.8" y2="82.1" stroke="#30d040" stroke-width="1.2"/><line x1="435.8" y1="82.1" x2="440.1" y2="84.6" stroke="#30d040" stroke-width="1.2"/><line x1="435.8" y1="82.1" x2="438.3" y2="86.4" stroke="#30d040" stroke-width="1.2"/><line x1="435.8" y1="82.1" x2="435.8" y2="87.1" stroke="#30d040" stroke-width="1.2"/><line x1="435.8" y1="82.1" x2="433.3" y2="86.4" stroke="#30d040" stroke-width="1.2"/><line x1="435.8" y1="82.1" x2="431.5" y2="84.6" stroke="#30d040" stroke-width="1.2"/><line x1="435.8" y1="82.1" x2="430.8" y2="82.1" stroke="#30d040" stroke-width="1.2"/><line x1="435.8" y1="82.1" x2="431.5" y2="79.6" stroke="#30d040" stroke-width="1.2"/><line x1="435.8" y1="82.1" x2="433.3" y2="77.7" stroke="#30d040" stroke-width="1.2"/><line x1="435.8" y1="82.1" x2="435.8" y2="77.1" stroke="#30d040" stroke-width="1.2"/><line x1="435.8" y1="82.1" x2="438.3" y2="77.7" stroke="#30d040" stroke-width="1.2"/><line x1="435.8" y1="82.1" x2="440.1" y2="79.6" stroke="#30d040" stroke-width="1.2"/>
<circle cx="471.1" cy="107.7" r="3" fill="#1aa82a"/><line x1="471.1" y1="107.7" x2="476.1" y2="107.7" stroke="#30d040" stroke-width="1.2"/><line x1="471.1" y1="107.7" x2="475.4" y2="110.2" stroke="#30d040" stroke-width="1.2"/><line x1="471.1" y1="107.7" x2="473.6" y2="112.0" stroke="#30d040" stroke-width="1.2"/><line x1="471.1" y1="107.7" x2="471.1" y2="112.7" stroke="#30d040" stroke-width="1.2"/><line x1="471.1" y1="107.7" x2="468.6" y2="112.0" stroke="#30d040" stroke-width="1.2"/><line x1="471.1" y1="107.7" x2="466.7" y2="110.2" stroke="#30d040" stroke-width="1.2"/><line x1="471.1" y1="107.7" x2="466.1" y2="107.7" stroke="#30d040" stroke-width="1.2"/><line x1="471.1" y1="107.7" x2="466.7" y2="105.2" stroke="#30d040" stroke-width="1.2"/><line x1="471.1" y1="107.7" x2="468.6" y2="103.4" stroke="#30d040" stroke-width="1.2"/><line x1="471.1" y1="107.7" x2="471.1" y2="102.7" stroke="#30d040" stroke-width="1.2"/><line x1="471.1" y1="107.7" x2="473.6" y2="103.4" stroke="#30d040" stroke-width="1.2"/><line x1="471.1" y1="107.7" x2="475.4" y2="105.2" stroke="#30d040" stroke-width="1.2"/>
<circle cx="457.3" cy="78.6" r="3" fill="#1aa82a"/><line x1="457.3" y1="78.6" x2="462.3" y2="78.6" stroke="#30d040" stroke-width="1.2"/><line x1="457.3" y1="78.6" x2="461.6" y2="81.1" stroke="#30d040" stroke-width="1.2"/><line x1="457.3" y1="78.6" x2="459.8" y2="82.9" stroke="#30d040" stroke-width="1.2"/><line x1="457.3" y1="78.6" x2="457.3" y2="83.6" stroke="#30d040" stroke-width="1.2"/><line x1="457.3" y1="78.6" x2="454.8" y2="82.9" stroke="#30d040" stroke-width="1.2"/><line x1="457.3" y1="78.6" x2="453.0" y2="81.1" stroke="#30d040" stroke-width="1.2"/><line x1="457.3" y1="78.6" x2="452.3" y2="78.6" stroke="#30d040" stroke-width="1.2"/><line x1="457.3" y1="78.6" x2="453.0" y2="76.1" stroke="#30d040" stroke-width="1.2"/><line x1="457.3" y1="78.6" x2="454.8" y2="74.3" stroke="#30d040" stroke-width="1.2"/><line x1="457.3" y1="78.6" x2="457.3" y2="73.6" stroke="#30d040" stroke-width="1.2"/><line x1="457.3" y1="78.6" x2="459.8" y2="74.3" stroke="#30d040" stroke-width="1.2"/><line x1="457.3" y1="78.6" x2="461.6" y2="76.1" stroke="#30d040" stroke-width="1.2"/>
<circle cx="419.4" cy="147.2" r="3" fill="#1aa82a"/><line x1="419.4" y1="147.2" x2="424.4" y2="147.2" stroke="#30d040" stroke-width="1.2"/><line x1="419.4" y1="147.2" x2="423.7" y2="149.7" stroke="#30d040" stroke-width="1.2"/><line x1="419.4" y1="147.2" x2="421.9" y2="151.5" stroke="#30d040" stroke-width="1.2"/><line x1="419.4" y1="147.2" x2="419.4" y2="152.2" stroke="#30d040" stroke-width="1.2"/><line x1="419.4" y1="147.2" x2="416.9" y2="151.5" stroke="#30d040" stroke-width="1.2"/><line x1="419.4" y1="147.2" x2="415.0" y2="149.7" stroke="#30d040" stroke-width="1.2"/><line x1="419.4" y1="147.2" x2="414.4" y2="147.2" stroke="#30d040" stroke-width="1.2"/><line x1="419.4" y1="147.2" x2="415.0" y2="144.7" stroke="#30d040" stroke-width="1.2"/><line x1="419.4" y1="147.2" x2="416.9" y2="142.9" stroke="#30d040" stroke-width="1.2"/><line x1="419.4" y1="147.2" x2="419.4" y2="142.2" stroke="#30d040" stroke-width="1.2"/><line x1="419.4" y1="147.2" x2="421.9" y2="142.9" stroke="#30d040" stroke-width="1.2"/><line x1="419.4" y1="147.2" x2="423.7" y2="144.7" stroke="#30d040" stroke-width="1.2"/>
<circle cx="436.9" cy="122.2" r="2.6" fill="url(#greenDot)"/>
<circle cx="474.4" cy="131.8" r="2.6" fill="url(#greenDot)"/>
<circle cx="467.9" cy="137.7" r="2.6" fill="url(#greenDot)"/>
<circle cx="386.3" cy="130.9" r="2.6" fill="url(#greenDot)"/>
<circle cx="416.8" cy="84.9" r="2.6" fill="url(#redDot)"/>
<circle cx="373.2" cy="119.0" r="2.6" fill="url(#redDot)"/>
<circle cx="407.4" cy="101.5" r="2.6" fill="url(#redDot)"/>
<circle cx="490.0" cy="96.0" r="2.6" fill="url(#redDot)"/>
<g transform="translate(366.1,112.2) rotate(-20)"><path d="M1,-5 A5.5,5.5 0 1,0 1,5 A2.8,5 0 0,1 1,-5 Z" fill="#ee8896"/><path d="M9,-3 A5.5,5.5 0 1,1 9,7 A2.8,5 0 0,0 9,-3 Z" fill="#e67a8c"/></g>
<g transform="translate(432.5,64.6) rotate(-15)"><path d="M1,-5 A5.5,5.5 0 1,0 1,5 A2.8,5 0 0,1 1,-5 Z" fill="#ee8896"/><path d="M9,-3 A5.5,5.5 0 1,1 9,7 A2.8,5 0 0,0 9,-3 Z" fill="#e67a8c"/></g>
<g transform="translate(382.3,104.2) rotate(12)"><path d="M1,-5 A5.5,5.5 0 1,0 1,5 A2.8,5 0 0,1 1,-5 Z" fill="#ee8896"/><path d="M9,-3 A5.5,5.5 0 1,1 9,7 A2.8,5 0 0,0 9,-3 Z" fill="#e67a8c"/></g>
<g transform="translate(403.9,81.3) rotate(19)"><path d="M1,-5 A5.5,5.5 0 1,0 1,5 A2.8,5 0 0,1 1,-5 Z" fill="#ee8896"/><path d="M9,-3 A5.5,5.5 0 1,1 9,7 A2.8,5 0 0,0 9,-3 Z" fill="#e67a8c"/></g>
<line x1="384.6" y1="110.2" x2="396.6" y2="110.2" transform="rotate(-36 390.6 110.2)" stroke="#1a30c8" stroke-width="3.6" stroke-dasharray="2.4,1.8"/>
<line x1="398.8" y1="121.2" x2="410.8" y2="121.2" transform="rotate(-22 404.8 121.2)" stroke="#1a30c8" stroke-width="3.6" stroke-dasharray="2.4,1.8"/>
<line x1="453.9" y1="119.4" x2="465.9" y2="119.4" transform="rotate(27 459.9 119.4)" stroke="#1a30c8" stroke-width="3.6" stroke-dasharray="2.4,1.8"/>
<line x1="442.1" y1="86.0" x2="454.1" y2="86.0" transform="rotate(9 448.1 86.0)" stroke="#1a30c8" stroke-width="3.6" stroke-dasharray="2.4,1.8"/>
<line x1="424.1" y1="154.3" x2="436.1" y2="154.3" transform="rotate(-25 430.1 154.3)" stroke="#1a30c8" stroke-width="3.6" stroke-dasharray="2.4,1.8"/>
<line x1="438.1" y1="127.9" x2="450.1" y2="127.9" transform="rotate(32 444.1 127.9)" stroke="#1a30c8" stroke-width="3.6" stroke-dasharray="2.4,1.8"/>
<ellipse cx="384" cy="135" rx="17" ry="14" fill="none" stroke="#fff" stroke-width="1.6" stroke-dasharray="4,2.5"/>
<polygon points="801.0,24.0 922.0,100.0 917.0,131.0 806.0,241.0 685.0,146.0 678.0,109.0" fill="url(#sideG)" stroke="#a4cdec" stroke-width="3" stroke-linejoin="round"/>
<line x1="696.0" y1="135.5" x2="705.3" y2="140.3" stroke="#ffffff" stroke-width="1.5" opacity="0.64" stroke-linecap="round"/>
<line x1="859.9" y1="161.6" x2="863.5" y2="157.1" stroke="#4a7eb6" stroke-width="1.6" opacity="0.58" stroke-linecap="round"/>
<line x1="786.1" y1="196.4" x2="794.6" y2="202.1" stroke="#1e3a60" stroke-width="1.5" opacity="0.40" stroke-linecap="round"/>
<line x1="724.2" y1="179.7" x2="729.4" y2="183.3" stroke="#ffffff" stroke-width="1.6" opacity="0.47" stroke-linecap="round"/>
<line x1="845.5" y1="174.8" x2="852.0" y2="168.2" stroke="#4a7eb6" stroke-width="1.6" opacity="0.45" stroke-linecap="round"/>
<line x1="905.3" y1="119.2" x2="911.5" y2="116.4" stroke="#ffffff" stroke-width="1.6" opacity="0.57" stroke-linecap="round"/>
<line x1="903.7" y1="139.9" x2="911.4" y2="135.5" stroke="#4a7eb6" stroke-width="1.0" opacity="0.57" stroke-linecap="round"/>
<line x1="878.1" y1="138.2" x2="881.2" y2="135.7" stroke="#ffffff" stroke-width="1.2" opacity="0.40" stroke-linecap="round"/>
<line x1="854.9" y1="172.5" x2="861.0" y2="166.0" stroke="#ffffff" stroke-width="0.8" opacity="0.53" stroke-linecap="round"/>
<line x1="698.6" y1="145.2" x2="702.3" y2="148.3" stroke="#ffffff" stroke-width="1.1" opacity="0.48" stroke-linecap="round"/>
<line x1="771.6" y1="180.7" x2="778.9" y2="187.6" stroke="#ffffff" stroke-width="1.5" opacity="0.63" stroke-linecap="round"/>
<line x1="782.8" y1="195.5" x2="785.0" y2="197.7" stroke="#1e3a60" stroke-width="1.4" opacity="0.57" stroke-linecap="round"/>
<line x1="914.6" y1="111.6" x2="922.1" y2="108.2" stroke="#ffffff" stroke-width="1.5" opacity="0.73" stroke-linecap="round"/>
<line x1="786.0" y1="201.8" x2="795.2" y2="207.2" stroke="#4a7eb6" stroke-width="1.1" opacity="0.42" stroke-linecap="round"/>
<line x1="883.3" y1="132.8" x2="889.6" y2="126.7" stroke="#1e3a60" stroke-width="0.9" opacity="0.46" stroke-linecap="round"/>
<line x1="815.0" y1="204.9" x2="823.3" y2="197.9" stroke="#4a7eb6" stroke-width="0.8" opacity="0.44" stroke-linecap="round"/>
<line x1="738.1" y1="178.3" x2="747.6" y2="182.3" stroke="#ffffff" stroke-width="1.6" opacity="0.35" stroke-linecap="round"/>
<line x1="851.3" y1="174.1" x2="854.7" y2="171.4" stroke="#4a7eb6" stroke-width="0.8" opacity="0.42" stroke-linecap="round"/>
<line x1="895.7" y1="120.4" x2="902.7" y2="113.0" stroke="#1e3a60" stroke-width="1.6" opacity="0.58" stroke-linecap="round"/>
<line x1="691.4" y1="155.0" x2="699.9" y2="158.5" stroke="#4a7eb6" stroke-width="1.0" opacity="0.54" stroke-linecap="round"/>
<line x1="778.8" y1="191.7" x2="787.2" y2="198.5" stroke="#4a7eb6" stroke-width="1.2" opacity="0.59" stroke-linecap="round"/>
<line x1="851.7" y1="156.7" x2="857.9" y2="152.7" stroke="#ffffff" stroke-width="1.4" opacity="0.64" stroke-linecap="round"/>
<line x1="783.9" y1="205.2" x2="787.9" y2="208.3" stroke="#ffffff" stroke-width="1.7" opacity="0.37" stroke-linecap="round"/>
<line x1="723.2" y1="176.6" x2="729.4" y2="181.4" stroke="#4a7eb6" stroke-width="1.2" opacity="0.64" stroke-linecap="round"/>
<line x1="811.5" y1="183.7" x2="817.1" y2="177.9" stroke="#1e3a60" stroke-width="1.4" opacity="0.60" stroke-linecap="round"/>
<line x1="764.1" y1="186.7" x2="770.5" y2="192.9" stroke="#4a7eb6" stroke-width="1.4" opacity="0.55" stroke-linecap="round"/>
<line x1="846.0" y1="177.6" x2="850.7" y2="172.4" stroke="#1e3a60" stroke-width="1.3" opacity="0.53" stroke-linecap="round"/>
<line x1="764.8" y1="188.9" x2="772.9" y2="195.8" stroke="#ffffff" stroke-width="1.4" opacity="0.59" stroke-linecap="round"/>
<line x1="745.8" y1="186.7" x2="747.8" y2="189.0" stroke="#ffffff" stroke-width="1.2" opacity="0.39" stroke-linecap="round"/>
<line x1="912.0" y1="120.0" x2="919.5" y2="116.1" stroke="#1e3a60" stroke-width="1.7" opacity="0.59" stroke-linecap="round"/>
<line x1="780.7" y1="186.2" x2="783.8" y2="188.2" stroke="#ffffff" stroke-width="0.9" opacity="0.73" stroke-linecap="round"/>
<line x1="818.4" y1="187.3" x2="827.3" y2="180.9" stroke="#4a7eb6" stroke-width="1.2" opacity="0.71" stroke-linecap="round"/>
<line x1="824.6" y1="215.5" x2="833.4" y2="209.7" stroke="#ffffff" stroke-width="1.0" opacity="0.37" stroke-linecap="round"/>
<line x1="774.4" y1="186.8" x2="779.3" y2="191.5" stroke="#ffffff" stroke-width="1.3" opacity="0.65" stroke-linecap="round"/>
<line x1="756.4" y1="183.9" x2="762.6" y2="186.9" stroke="#1e3a60" stroke-width="1.1" opacity="0.37" stroke-linecap="round"/>
<line x1="759.3" y1="204.3" x2="766.6" y2="209.4" stroke="#1e3a60" stroke-width="1.2" opacity="0.61" stroke-linecap="round"/>
<line x1="685.5" y1="118.6" x2="692.4" y2="124.7" stroke="#ffffff" stroke-width="0.9" opacity="0.69" stroke-linecap="round"/>
<line x1="785.9" y1="224.6" x2="794.1" y2="230.0" stroke="#ffffff" stroke-width="0.9" opacity="0.70" stroke-linecap="round"/>
<line x1="873.0" y1="147.0" x2="876.5" y2="144.2" stroke="#1e3a60" stroke-width="0.7" opacity="0.43" stroke-linecap="round"/>
<line x1="764.3" y1="189.0" x2="770.4" y2="193.3" stroke="#ffffff" stroke-width="1.1" opacity="0.50" stroke-linecap="round"/>
<line x1="864.8" y1="173.5" x2="867.7" y2="170.6" stroke="#1e3a60" stroke-width="1.0" opacity="0.39" stroke-linecap="round"/>
<line x1="699.0" y1="148.8" x2="705.4" y2="155.2" stroke="#ffffff" stroke-width="0.6" opacity="0.65" stroke-linecap="round"/>
<line x1="810.2" y1="215.8" x2="816.6" y2="211.9" stroke="#ffffff" stroke-width="0.7" opacity="0.66" stroke-linecap="round"/>
<line x1="714.6" y1="166.7" x2="717.5" y2="169.4" stroke="#ffffff" stroke-width="1.1" opacity="0.72" stroke-linecap="round"/>
<line x1="709.4" y1="159.8" x2="712.6" y2="163.2" stroke="#4a7eb6" stroke-width="1.0" opacity="0.63" stroke-linecap="round"/>
<line x1="907.6" y1="130.9" x2="913.3" y2="127.1" stroke="#ffffff" stroke-width="1.5" opacity="0.47" stroke-linecap="round"/>
<line x1="818.1" y1="220.7" x2="826.8" y2="215.2" stroke="#ffffff" stroke-width="1.0" opacity="0.69" stroke-linecap="round"/>
<line x1="789.3" y1="215.9" x2="792.3" y2="217.2" stroke="#ffffff" stroke-width="1.0" opacity="0.47" stroke-linecap="round"/>
<line x1="877.0" y1="163.8" x2="881.0" y2="159.6" stroke="#4a7eb6" stroke-width="0.6" opacity="0.63" stroke-linecap="round"/>
<line x1="684.2" y1="116.5" x2="690.6" y2="121.2" stroke="#ffffff" stroke-width="0.7" opacity="0.54" stroke-linecap="round"/>
<line x1="731.0" y1="185.4" x2="737.2" y2="191.3" stroke="#ffffff" stroke-width="1.1" opacity="0.54" stroke-linecap="round"/>
<line x1="714.5" y1="159.4" x2="718.7" y2="161.6" stroke="#1e3a60" stroke-width="1.6" opacity="0.74" stroke-linecap="round"/>
<line x1="783.4" y1="205.0" x2="786.1" y2="207.5" stroke="#4a7eb6" stroke-width="1.6" opacity="0.63" stroke-linecap="round"/>
<line x1="811.8" y1="194.8" x2="817.6" y2="187.3" stroke="#ffffff" stroke-width="1.0" opacity="0.41" stroke-linecap="round"/>
<line x1="718.8" y1="144.3" x2="726.0" y2="150.5" stroke="#ffffff" stroke-width="1.1" opacity="0.50" stroke-linecap="round"/>
<line x1="877.6" y1="150.0" x2="883.8" y2="144.0" stroke="#4a7eb6" stroke-width="1.4" opacity="0.70" stroke-linecap="round"/>
<line x1="904.8" y1="135.5" x2="911.3" y2="128.2" stroke="#1e3a60" stroke-width="1.3" opacity="0.37" stroke-linecap="round"/>
<line x1="858.0" y1="163.5" x2="862.4" y2="159.2" stroke="#4a7eb6" stroke-width="1.4" opacity="0.45" stroke-linecap="round"/>
<line x1="882.1" y1="141.9" x2="888.6" y2="134.5" stroke="#ffffff" stroke-width="1.2" opacity="0.40" stroke-linecap="round"/>
<line x1="816.9" y1="208.9" x2="821.2" y2="206.0" stroke="#ffffff" stroke-width="0.8" opacity="0.60" stroke-linecap="round"/>
<clipPath id="cLs367"><polygon points="678.0,109.0 797.0,193.0 806.0,241.0 685.0,146.0"/></clipPath>
<g clip-path="url(#cLs367)"><g transform="rotate(35 803.5 132.5)"><rect x="623.5" y="-47.5" width="360" height="360" filter="url(#iceW)" opacity="0.65"/><rect x="623.5" y="-47.5" width="360" height="360" filter="url(#iceD)" opacity="0.45"/></g></g>
<clipPath id="cRs367"><polygon points="797.0,193.0 922.0,100.0 917.0,131.0 806.0,241.0"/></clipPath>
<g clip-path="url(#cRs367)"><g transform="rotate(-36 803.5 132.5)"><rect x="623.5" y="-47.5" width="360" height="360" filter="url(#iceW)" opacity="0.65"/><rect x="623.5" y="-47.5" width="360" height="360" filter="url(#iceD)" opacity="0.45"/></g></g>
<polygon points="801.0,24.0 922.0,100.0 797.0,193.0 678.0,109.0" fill="url(#rimG)"/>
<clipPath id="cTop367"><polygon points="801.0,24.0 922.0,100.0 797.0,193.0 678.0,109.0"/></clipPath>
<g clip-path="url(#cTop367)"><g transform="rotate(-35 803.5 132.5)"><rect x="623.5" y="-47.5" width="360" height="360" filter="url(#iceW)" opacity="0.75"/></g><g transform="rotate(33 803.5 132.5)"><rect x="623.5" y="-47.5" width="360" height="360" filter="url(#iceW)" opacity="0.6"/><rect x="623.5" y="-47.5" width="360" height="360" filter="url(#iceD)" opacity="0.35"/></g></g>
<line x1="853.9" y1="65.9" x2="857.3" y2="62.7" stroke="#ffffff" stroke-width="1.6" opacity="0.6" stroke-linecap="round"/>
<line x1="904.3" y1="97.4" x2="909.8" y2="92.4" stroke="#cfeafc" stroke-width="0.9" opacity="0.6" stroke-linecap="round"/>
<line x1="721.8" y1="83.2" x2="724.9" y2="84.6" stroke="#ffffff" stroke-width="1.8" opacity="0.6" stroke-linecap="round"/>
<line x1="853.1" y1="137.0" x2="856.4" y2="139.2" stroke="#cfeafc" stroke-width="1.1" opacity="0.6" stroke-linecap="round"/>
<line x1="711.9" y1="119.0" x2="715.0" y2="121.4" stroke="#ffffff" stroke-width="1.7" opacity="0.6" stroke-linecap="round"/>
<line x1="760.9" y1="52.4" x2="768.3" y2="57.5" stroke="#ffffff" stroke-width="1.8" opacity="0.6" stroke-linecap="round"/>
<line x1="750.6" y1="150.3" x2="758.3" y2="154.3" stroke="#cfeafc" stroke-width="2.0" opacity="0.6" stroke-linecap="round"/>
<line x1="701.4" y1="120.9" x2="705.4" y2="118.7" stroke="#ffffff" stroke-width="1.5" opacity="0.6" stroke-linecap="round"/>
<line x1="741.2" y1="142.8" x2="744.5" y2="138.8" stroke="#2a5688" stroke-width="1.1" opacity="0.6" stroke-linecap="round"/>
<line x1="818.2" y1="165.8" x2="824.8" y2="169.9" stroke="#cfeafc" stroke-width="1.7" opacity="0.6" stroke-linecap="round"/>
<line x1="811.3" y1="33.7" x2="817.4" y2="37.5" stroke="#ffffff" stroke-width="1.9" opacity="0.6" stroke-linecap="round"/>
<line x1="749.5" y1="155.5" x2="755.1" y2="150.7" stroke="#ffffff" stroke-width="1.1" opacity="0.6" stroke-linecap="round"/>
<line x1="874.7" y1="77.3" x2="878.7" y2="79.7" stroke="#cfeafc" stroke-width="1.2" opacity="0.6" stroke-linecap="round"/>
<line x1="729.4" y1="129.1" x2="734.7" y2="123.9" stroke="#ffffff" stroke-width="1.6" opacity="0.6" stroke-linecap="round"/>
<line x1="712.4" y1="102.8" x2="715.6" y2="100.2" stroke="#ffffff" stroke-width="1.3" opacity="0.6" stroke-linecap="round"/>
<line x1="695.7" y1="112.5" x2="698.2" y2="109.4" stroke="#ffffff" stroke-width="1.5" opacity="0.6" stroke-linecap="round"/>
<line x1="847.9" y1="147.6" x2="854.1" y2="151.5" stroke="#ffffff" stroke-width="1.1" opacity="0.6" stroke-linecap="round"/>
<line x1="874.1" y1="131.0" x2="879.2" y2="136.8" stroke="#ffffff" stroke-width="0.8" opacity="0.6" stroke-linecap="round"/>
<line x1="796.6" y1="36.2" x2="802.0" y2="42.3" stroke="#2a5688" stroke-width="1.4" opacity="0.6" stroke-linecap="round"/>
<line x1="761.4" y1="70.3" x2="766.3" y2="73.5" stroke="#cfeafc" stroke-width="1.4" opacity="0.6" stroke-linecap="round"/>
<line x1="792.7" y1="182.7" x2="798.2" y2="186.3" stroke="#2a5688" stroke-width="1.9" opacity="0.6" stroke-linecap="round"/>
<polygon points="801.0,35.0 911.0,102.0 798.0,184.0 688.0,110.0" fill="url(#faceG)" stroke="#6e9ed0" stroke-width="3" stroke-linejoin="round"/>
<clipPath id="clip367"><polygon points="801.0,31.0 915.0,101.0 798.0,188.0 684.0,109.0"/></clipPath>
<g clip-path="url(#clip367)">
<path d="M778.3,135.2 C776.9,137.9 770.5,145.8 769.9,151.2 C769.2,156.7 773.7,164.4 774.2,167.8 C774.6,171.2 768.9,171.6 772.7,171.5 C776.6,171.5 789.3,169.1 797.3,167.4 C805.4,165.7 815.5,161.7 821.1,161.5 C826.8,161.3 833.2,167.0 831.5,166.2 C829.8,165.4 815.9,160.8 811.0,156.6 C806.1,152.4 804.0,146.4 802.0,141.0 C800.0,135.6 800.5,129.8 799.0,124.3 C797.5,118.8 797.9,111.5 792.9,108.0 C787.8,104.6 772.7,104.4 768.6,103.7" fill="none" stroke="#7ce0f0" stroke-width="1.5" stroke-linecap="round"/>
<path d="M768.3,121.5 C768.3,118.7 766.6,110.0 768.6,104.7 C770.6,99.3 775.1,93.9 780.3,89.6 C785.5,85.3 795.5,83.3 800.0,78.7 C804.4,74.2 805.5,68.0 807.0,62.5 C808.4,56.9 811.0,50.0 808.7,45.6 C806.3,41.2 796.4,34.8 792.9,36.0 C789.3,37.1 786.7,47.2 787.4,52.5 C788.0,57.9 792.9,63.1 796.7,68.1 C800.5,73.0 804.6,78.2 810.2,82.1 C815.9,86.0 826.6,87.3 830.7,91.7 C834.9,96.0 834.5,105.4 835.2,108.2" fill="none" stroke="#7ce0f0" stroke-width="1.5" stroke-linecap="round"/>
<path d="M814.8,106.1 C817.7,108.1 825.3,116.6 832.3,118.0 C839.4,119.4 849.3,116.6 857.1,114.6 C864.9,112.6 872.7,109.5 879.1,106.0 C885.5,102.6 897.0,95.5 895.6,94.1 C894.3,92.7 879.1,97.7 870.9,97.7 C862.6,97.8 854.5,94.6 846.2,94.6 C837.9,94.6 828.4,99.1 821.3,97.7 C814.2,96.2 805.3,90.6 803.6,85.9 C801.8,81.3 812.9,74.2 811.0,69.7 C809.1,65.2 797.3,63.0 792.1,58.8 C786.9,54.6 781.9,47.0 779.8,44.7" fill="none" stroke="#7ce0f0" stroke-width="1.5" stroke-linecap="round"/>
<path d="M780.0,117.3 C779.8,120.1 780.2,128.6 778.7,134.1 C777.2,139.6 776.5,147.2 771.1,150.3 C765.7,153.4 752.5,154.8 746.1,152.9 C739.7,151.0 732.4,143.5 732.6,138.9 C732.8,134.2 743.3,129.9 747.3,124.9 C751.2,120.0 751.0,112.9 756.3,109.1 C761.7,105.2 771.4,103.4 779.4,102.0 C787.4,100.6 796.6,99.8 804.6,100.7 C812.6,101.6 823.9,103.4 827.6,107.4 C831.2,111.3 823.0,119.9 826.3,124.2 C829.6,128.5 843.8,131.7 847.4,133.2" fill="none" stroke="#7ce0f0" stroke-width="1.5" stroke-linecap="round"/>
<path d="M805.5,128.5 C804.7,131.2 799.3,139.8 800.4,145.0 C801.6,150.2 807.9,155.7 812.4,159.7 C816.9,163.7 829.1,167.2 827.4,168.9 C825.7,170.6 810.4,168.7 802.2,169.6 C793.9,170.6 784.6,175.4 777.9,174.5 C771.2,173.7 767.2,167.8 762.0,164.3 C756.8,160.9 752.0,157.6 746.6,154.0 C741.3,150.4 733.1,147.3 729.8,142.6 C726.5,138.0 726.5,131.5 726.8,126.0 C727.0,120.4 727.5,114.2 731.1,109.3 C734.8,104.4 745.6,98.9 748.4,96.8" fill="none" stroke="#7ce0f0" stroke-width="1.5" stroke-linecap="round"/>
<path d="M860.1,103.2 C855.9,103.2 843.3,102.7 834.9,102.8 C826.5,102.8 815.4,100.8 809.6,103.6 C803.9,106.4 805.8,115.8 800.3,119.4 C794.7,123.0 783.5,126.0 776.4,125.1 C769.3,124.2 760.3,118.6 757.7,114.0 C755.1,109.4 763.8,101.4 760.7,97.2 C757.6,93.0 746.6,90.4 739.2,88.7 C731.7,87.0 719.6,84.5 716.0,87.0 C712.5,89.5 717.7,98.1 718.0,103.8 C718.3,109.4 714.6,116.2 717.9,120.6 C721.3,125.0 734.8,128.8 738.1,130.4" fill="none" stroke="#7ce0f0" stroke-width="1.5" stroke-linecap="round"/>
<path d="M777.9,124.9 C782.0,125.4 795.4,129.0 802.7,127.5 C810.1,126.0 819.2,120.8 821.8,116.2 C824.4,111.5 819.4,105.1 818.5,99.5 C817.5,94.0 818.7,87.9 815.9,82.8 C813.1,77.7 803.7,74.2 801.7,69.1 C799.6,64.0 805.3,57.4 803.4,52.2 C801.5,47.0 792.5,40.4 790.4,37.9 C788.3,35.5 787.5,37.8 790.7,37.5 C793.8,37.1 804.6,33.6 809.1,35.9 C813.7,38.3 814.5,46.5 817.9,51.6 C821.2,56.7 827.4,64.0 829.3,66.5" fill="none" stroke="#7ce0f0" stroke-width="1.5" stroke-linecap="round"/>
<path d="M833.5,138.5 C836.6,140.3 846.5,148.9 852.4,149.4 C858.3,149.9 863.3,144.6 868.8,141.4 C874.2,138.3 880.6,135.1 885.0,130.7 C889.3,126.3 892.4,120.4 894.7,115.0 C897.1,109.6 899.1,102.0 899.1,98.4 C899.0,94.7 898.9,95.3 894.3,93.3 C889.8,91.2 876.6,89.4 871.7,86.1 C866.9,82.8 870.4,75.1 865.2,73.6 C859.9,72.1 845.4,73.7 840.3,77.0 C835.3,80.3 833.4,88.5 834.9,93.5 C836.5,98.6 847.1,104.8 849.5,107.1" fill="none" stroke="#7ce0f0" stroke-width="1.5" stroke-linecap="round"/>
<path d="M849.4,107.7 C853.4,108.4 866.8,113.5 873.6,112.1 C880.4,110.7 888.9,103.8 890.3,99.2 C891.7,94.7 887.4,86.6 881.9,84.9 C876.4,83.2 864.2,90.7 857.4,89.3 C850.6,87.9 845.4,81.3 841.3,76.5 C837.2,71.8 833.9,64.8 832.7,60.8 C831.4,56.8 833.9,51.2 834.0,52.6 C834.1,54.1 832.7,63.9 833.4,69.5 C834.0,75.1 833.2,82.3 837.8,86.0 C842.5,89.8 853.2,91.6 861.3,92.0 C869.3,92.4 881.9,89.0 886.0,88.4" fill="none" stroke="#7ce0f0" stroke-width="1.5" stroke-linecap="round"/>
<path d="M828.0,65.4 C824.2,66.7 813.1,73.3 805.5,73.4 C798.0,73.5 786.8,70.3 782.9,66.3 C778.9,62.3 780.4,54.3 781.8,49.5 C783.1,44.6 786.2,39.0 791.2,37.1 C796.3,35.2 812.4,36.5 812.2,38.0 C812.0,39.5 796.7,42.9 789.9,46.2 C783.0,49.4 775.8,53.2 771.2,57.8 C766.7,62.3 767.3,69.3 762.5,73.7 C757.7,78.1 747.2,79.7 742.4,84.1 C737.6,88.5 735.4,94.6 733.8,100.1 C732.3,105.6 733.3,114.1 733.1,116.9" fill="none" stroke="#7ce0f0" stroke-width="1.5" stroke-linecap="round"/>
<path d="M781.3,100.8 C780.3,103.5 773.1,112.6 775.3,117.2 C777.4,121.8 790.8,123.6 794.0,128.2 C797.3,132.9 791.0,141.0 794.8,145.1 C798.7,149.1 809.9,149.9 817.1,152.6 C824.4,155.3 834.6,160.0 838.6,161.2 C842.6,162.4 844.0,161.7 841.2,159.7 C838.4,157.8 829.2,151.0 821.7,149.3 C814.3,147.5 803.2,146.9 796.5,149.2 C789.8,151.5 784.5,158.6 781.6,163.0 C778.6,167.4 776.1,175.4 778.8,175.6 C781.4,175.7 794.2,165.9 797.3,163.9" fill="none" stroke="#7ce0f0" stroke-width="1.5" stroke-linecap="round"/>
<path d="M796.5,148.2 C798.3,150.7 803.7,158.9 807.7,163.1 C811.6,167.4 817.0,174.6 820.2,173.7 C823.4,172.7 829.0,161.7 826.7,157.3 C824.4,152.9 812.6,151.2 806.6,147.4 C800.5,143.6 791.4,139.4 790.3,134.7 C789.3,130.0 798.3,124.5 800.3,119.1 C802.3,113.7 800.7,107.8 802.4,102.3 C804.1,96.8 809.0,91.7 810.3,86.2 C811.7,80.7 812.4,74.6 810.5,69.3 C808.6,64.0 801.8,59.7 799.0,54.5 C796.2,49.3 794.6,40.8 793.7,38.1" fill="none" stroke="#dab688" stroke-width="1.5" stroke-linecap="round"/>
<path d="M778.3,123.2 C774.2,123.4 759.1,121.8 753.2,124.6 C747.2,127.4 742.1,135.1 742.5,140.0 C742.9,145.0 749.6,150.8 755.5,154.3 C761.5,157.8 770.4,160.3 778.4,161.1 C786.4,161.8 795.8,157.6 803.5,158.7 C811.2,159.9 819.4,166.8 824.4,167.8 C829.4,168.9 830.1,167.9 833.5,164.8 C837.0,161.8 842.2,155.0 845.1,149.7 C848.1,144.5 851.3,138.7 851.2,133.3 C851.1,127.9 844.9,122.6 844.5,117.1 C844.0,111.7 847.9,103.2 848.5,100.4" fill="none" stroke="#dab688" stroke-width="1.5" stroke-linecap="round"/>
<path d="M890.7,97.7 C893.4,99.8 906.0,106.2 907.3,110.2 C908.6,114.2 903.1,121.6 898.4,121.8 C893.6,122.0 884.1,115.6 878.6,111.6 C873.1,107.5 871.7,99.6 865.3,97.4 C858.9,95.3 847.8,99.9 840.1,98.6 C832.4,97.3 826.2,89.7 819.0,89.6 C811.8,89.5 804.7,96.0 796.9,98.0 C789.1,100.1 780.5,100.9 772.2,101.8 C763.9,102.7 753.7,105.4 747.0,103.4 C740.4,101.4 735.1,94.3 732.3,89.9 C729.5,85.6 730.7,79.5 730.4,77.5" fill="none" stroke="#dab688" stroke-width="1.5" stroke-linecap="round"/>
<path d="M876.4,95.6 C875.9,98.4 876.7,107.4 873.6,112.4 C870.4,117.4 862.3,121.0 857.7,125.7 C853.1,130.5 851.2,136.5 845.9,140.8 C840.6,145.1 832.9,150.9 825.9,151.3 C818.9,151.8 807.8,147.6 803.8,143.5 C799.9,139.4 806.2,130.7 802.2,126.7 C798.2,122.6 785.3,122.9 779.9,119.1 C774.5,115.3 773.7,108.7 769.9,103.8 C766.0,98.9 758.6,94.8 756.6,89.6 C754.6,84.4 757.9,77.7 757.9,72.8 C758.0,67.8 757.1,62.0 756.9,59.9" fill="none" stroke="#dab688" stroke-width="1.5" stroke-linecap="round"/>
<path d="M750.3,86.0 C749.4,88.7 742.5,97.8 744.6,102.5 C746.7,107.1 755.5,112.5 762.7,114.0 C769.9,115.4 780.1,109.9 787.6,111.1 C795.1,112.3 802.3,117.0 807.7,121.1 C813.1,125.1 816.5,130.5 820.2,135.5 C824.0,140.5 824.9,148.0 830.2,150.9 C835.4,153.7 852.1,153.5 851.9,152.6 C851.7,151.8 832.9,146.9 829.1,145.7" fill="none" stroke="#b08ae8" stroke-width="1.6" stroke-linecap="round"/>
<path d="M857.4,79.9 C855.8,77.3 852.1,69.1 847.9,64.4 C843.7,59.7 838.2,55.5 832.4,51.6 C826.6,47.7 818.3,44.4 813.2,40.9 C808.0,37.5 806.4,30.5 801.6,30.9 C796.9,31.3 789.6,40.2 784.5,43.5 C779.4,46.8 772.8,46.5 771.0,50.5 C769.2,54.4 769.4,63.5 773.8,67.2 C778.3,70.9 793.7,71.5 797.7,72.4" fill="none" stroke="#b08ae8" stroke-width="1.6" stroke-linecap="round"/>
<path d="M804.8,131.6 C806.2,128.9 808.7,120.2 813.0,115.5 C817.3,110.8 825.8,107.9 830.8,103.4 C835.9,98.9 837.3,92.1 843.3,88.5 C849.2,84.9 863.4,84.6 866.6,81.9 C869.9,79.1 867.2,74.6 862.7,71.9 C858.1,69.3 846.9,65.9 839.2,66.1 C831.4,66.4 824.1,71.6 816.2,73.5 C808.3,75.3 795.7,76.8 791.6,77.5" fill="none" stroke="#b08ae8" stroke-width="1.6" stroke-linecap="round"/>
<path d="M745.2,96.2 C744.8,99.0 744.1,107.4 743.3,113.0 C742.5,118.6 740.2,124.2 740.3,129.8 C740.4,135.3 742.0,141.8 743.9,146.4 C745.9,151.0 747.6,153.7 751.8,157.5 C756.1,161.3 762.7,166.2 769.4,169.3 C776.2,172.4 786.0,174.0 792.3,176.2 C798.5,178.4 807.2,183.5 807.1,182.4 C807.0,181.2 794.1,171.5 791.6,169.3" fill="none" stroke="#b08ae8" stroke-width="1.6" stroke-linecap="round"/>
<path d="M801.8,137.0 C806.0,137.3 819.4,136.7 826.8,138.7 C834.3,140.7 842.5,146.6 846.5,149.0 C850.5,151.4 854.3,153.0 850.9,153.3 C847.5,153.6 832.8,149.1 826.0,150.9 C819.2,152.8 816.9,161.7 810.0,164.2 C803.2,166.8 791.9,165.6 785.0,166.4 C778.0,167.1 767.9,170.0 768.5,168.7 C769.2,167.4 785.6,160.3 789.0,158.6" fill="none" stroke="#b08ae8" stroke-width="1.6" stroke-linecap="round"/>
</g>
<ellipse cx="858.2" cy="116.0" rx="4.5" ry="1.6" transform="rotate(39 858.2 116.0)" fill="#b494ec"/>
<ellipse cx="758.1" cy="126.1" rx="4.5" ry="1.6" transform="rotate(-32 758.1 126.1)" fill="#b494ec"/>
<ellipse cx="774.0" cy="122.4" rx="4.5" ry="1.6" transform="rotate(31 774.0 122.4)" fill="#b494ec"/>
<circle cx="834.5" cy="139.5" r="2.6" fill="url(#greenDot)"/>
<circle cx="760.5" cy="109.5" r="2.6" fill="url(#greenDot)"/>
<circle cx="843.4" cy="91.4" r="2.6" fill="url(#greenDot)"/>
<circle cx="815.9" cy="147.1" r="2.6" fill="url(#greenDot)"/>
<circle cx="791.3" cy="89.0" r="2.6" fill="url(#redDot)"/>
<circle cx="848.6" cy="110.8" r="2.6" fill="url(#redDot)"/>
<circle cx="872.2" cy="112.5" r="2.6" fill="url(#redDot)"/>
<g transform="translate(785.5,131.1) rotate(-17)"><path d="M1,-5 A5.5,5.5 0 1,0 1,5 A2.8,5 0 0,1 1,-5 Z" fill="#ee8896"/><path d="M9,-3 A5.5,5.5 0 1,1 9,7 A2.8,5 0 0,0 9,-3 Z" fill="#e67a8c"/></g>
<g transform="translate(752.2,102.5) rotate(12)"><path d="M1,-5 A5.5,5.5 0 1,0 1,5 A2.8,5 0 0,1 1,-5 Z" fill="#ee8896"/><path d="M9,-3 A5.5,5.5 0 1,1 9,7 A2.8,5 0 0,0 9,-3 Z" fill="#e67a8c"/></g>
<g transform="translate(740.2,108.4) rotate(27)"><path d="M1,-5 A5.5,5.5 0 1,0 1,5 A2.8,5 0 0,1 1,-5 Z" fill="#ee8896"/><path d="M9,-3 A5.5,5.5 0 1,1 9,7 A2.8,5 0 0,0 9,-3 Z" fill="#e67a8c"/></g>
<circle cx="861.0" cy="95.6" r="3.6" fill="url(#grayDot)"/>
<circle cx="780.7" cy="69.2" r="3.6" fill="url(#grayDot)"/>
<circle cx="815.4" cy="83.4" r="3.6" fill="url(#grayDot)"/>
<circle cx="804.5" cy="76.7" r="3.6" fill="url(#grayDot)"/>
<circle cx="763.6" cy="99.8" r="3.6" fill="url(#grayDot)"/>
<circle cx="807.0" cy="109.1" r="3.6" fill="url(#grayDot)"/>
<circle cx="787.6" cy="148.1" r="3.6" fill="url(#grayDot)"/>
<circle cx="832.4" cy="123.0" r="3.6" fill="url(#grayDot)"/>
<circle cx="798.6" cy="137.9" r="3.6" fill="url(#grayDot)"/>
<circle cx="812.2" cy="128.7" r="3.6" fill="url(#grayDot)"/>
<circle cx="830.8" cy="80.0" r="3.6" fill="url(#grayDot)"/>
<circle cx="799.1" cy="165.4" r="3.6" fill="url(#grayDot)"/>
<line x1="825.3" y1="94.8" x2="837.3" y2="94.8" transform="rotate(18 831.3 94.8)" stroke="#1a30c8" stroke-width="3.6" stroke-dasharray="2.4,1.8"/>
<line x1="752.8" y1="91.8" x2="764.8" y2="91.8" transform="rotate(9 758.8 91.8)" stroke="#1a30c8" stroke-width="3.6" stroke-dasharray="2.4,1.8"/>
<line x1="767.2" y1="78.5" x2="779.2" y2="78.5" transform="rotate(22 773.2 78.5)" stroke="#1a30c8" stroke-width="3.6" stroke-dasharray="2.4,1.8"/>
<line x1="803.4" y1="71.7" x2="815.4" y2="71.7" transform="rotate(-25 809.4 71.7)" stroke="#1a30c8" stroke-width="3.6" stroke-dasharray="2.4,1.8"/>
<line x1="734.2" y1="122.2" x2="746.2" y2="122.2" transform="rotate(-11 740.2 122.2)" stroke="#1a30c8" stroke-width="3.6" stroke-dasharray="2.4,1.8"/>
<line x1="795.4" y1="58.4" x2="807.4" y2="58.4" transform="rotate(-17 801.4 58.4)" stroke="#1a30c8" stroke-width="3.6" stroke-dasharray="2.4,1.8"/>
<line x1="837.4" y1="124.9" x2="849.4" y2="124.9" transform="rotate(39 843.4 124.9)" stroke="#1a30c8" stroke-width="3.6" stroke-dasharray="2.4,1.8"/>
<line x1="789.4" y1="100.9" x2="801.4" y2="100.9" transform="rotate(-27 795.4 100.9)" stroke="#1a30c8" stroke-width="3.6" stroke-dasharray="2.4,1.8"/>
<line x1="776.2" y1="106.2" x2="788.2" y2="106.2" transform="rotate(-1 782.2 106.2)" stroke="#1a30c8" stroke-width="3.6" stroke-dasharray="2.4,1.8"/>
<ellipse cx="802" cy="152" rx="16" ry="12" fill="none" stroke="#fff" stroke-width="1.6" stroke-dasharray="4,2.5"/>
<g opacity="0.75"><polygon points="363.8,153.4 360.3,154.3 356.8,155.2 353.3,156.3 349.7,157.4 346.2,158.7 342.6,160.1 339.0,161.5 335.5,163.0 331.9,164.6 328.4,166.3 324.9,168.1 321.4,170.0 317.9,171.9 314.4,173.9 311.0,176.0 307.6,178.2 304.3,180.5 301.0,182.8 297.7,185.1 294.5,187.6 291.4,190.1 288.3,192.7 285.2,195.3 282.3,198.0 279.4,200.7 276.6,203.5 273.8,206.4 271.2,209.3 268.6,212.3 266.1,215.3 263.7,218.4 261.4,221.5 259.3,224.7 257.2,227.9 255.2,231.1 253.4,234.4 251.6,237.8 250.0,241.1 248.5,244.5 247.2,247.9 252.8,250.1 254.0,246.7 255.3,243.5 256.8,240.2 258.3,237.0 260.0,233.8 261.8,230.7 263.7,227.6 265.7,224.5 267.8,221.4 270.1,218.4 272.4,215.4 274.8,212.5 277.3,209.6 279.9,206.7 282.6,203.9 285.3,201.2 288.1,198.5 291.0,195.8 294.0,193.2 297.0,190.7 300.1,188.2 303.2,185.8 306.4,183.4 309.6,181.1 312.9,178.9 316.2,176.7 319.5,174.6 322.9,172.6 326.3,170.7 329.7,168.8 333.1,167.0 336.5,165.3 340.0,163.7 343.5,162.1 346.9,160.7 350.4,159.3 353.9,158.0 357.3,156.8 360.7,155.6 364.2,154.6" fill="#f09a92"/>
<polygon points="243.7,266.7 242.8,230.5 252.1,243.1 267.3,239.2" fill="#f2a098"/></g>
<g opacity="0.75"><polygon points="433.6,182.5 434.9,183.6 436.2,184.7 437.4,185.8 438.6,187.0 439.9,188.3 441.1,189.5 442.3,190.9 443.4,192.2 444.6,193.6 445.7,195.0 446.8,196.5 447.9,198.0 449.0,199.6 450.0,201.1 451.0,202.7 452.0,204.4 453.0,206.0 454.0,207.7 454.9,209.4 455.8,211.2 456.6,212.9 457.4,214.7 458.2,216.5 459.0,218.4 459.7,220.2 460.4,222.1 461.1,224.0 461.7,225.9 462.3,227.8 462.8,229.7 463.3,231.6 463.8,233.6 464.2,235.5 464.6,237.5 465.0,239.4 465.3,241.4 465.5,243.3 465.7,245.3 465.9,247.3 466.0,249.3 472.0,248.7 471.8,246.7 471.5,244.6 471.2,242.5 470.8,240.5 470.4,238.4 469.9,236.3 469.4,234.3 468.8,232.3 468.3,230.2 467.6,228.2 466.9,226.3 466.2,224.3 465.5,222.3 464.7,220.4 463.9,218.5 463.0,216.6 462.1,214.8 461.2,212.9 460.2,211.1 459.2,209.3 458.2,207.6 457.2,205.8 456.1,204.1 455.0,202.5 453.9,200.9 452.7,199.3 451.5,197.7 450.3,196.2 449.1,194.7 447.9,193.3 446.6,191.9 445.3,190.5 444.0,189.2 442.7,188.0 441.3,186.7 440.0,185.6 438.6,184.5 437.2,183.4 435.8,182.4 434.4,181.5" fill="#f09a92"/>
<polygon points="470.4,267.7 455.9,234.9 468.5,242.8 479.9,233.2" fill="#f2a098"/></g>
<g opacity="0.75"><polygon points="771.8,165.4 768.6,166.4 765.3,167.5 762.0,168.6 758.7,169.9 755.3,171.2 751.9,172.6 748.4,174.0 744.9,175.5 741.5,177.1 738.0,178.8 734.4,180.5 730.9,182.2 727.4,184.1 723.9,185.9 720.4,187.9 716.9,189.9 713.4,191.9 709.9,194.0 706.4,196.2 703.0,198.4 699.6,200.6 696.3,202.9 693.0,205.2 689.7,207.6 686.4,210.0 683.3,212.5 680.1,215.0 677.1,217.5 674.1,220.1 671.2,222.7 668.3,225.3 665.5,228.0 662.8,230.7 660.2,233.4 657.7,236.2 655.2,238.9 652.9,241.8 650.6,244.6 648.5,247.5 646.5,250.3 651.5,253.7 653.3,250.9 655.3,248.1 657.4,245.3 659.5,242.5 661.8,239.8 664.2,237.0 666.7,234.3 669.2,231.6 671.8,229.0 674.6,226.3 677.4,223.7 680.2,221.1 683.2,218.6 686.2,216.0 689.2,213.6 692.3,211.1 695.5,208.7 698.7,206.3 701.9,203.9 705.2,201.6 708.5,199.4 711.9,197.2 715.3,195.0 718.7,192.9 722.1,190.8 725.5,188.8 728.9,186.8 732.3,184.9 735.8,183.0 739.2,181.2 742.6,179.5 746.0,177.8 749.4,176.2 752.8,174.6 756.1,173.1 759.4,171.7 762.7,170.3 765.9,169.0 769.1,167.8 772.2,166.6" fill="#f09a92"/>
<polygon points="638.7,267.7 646.4,232.3 652.4,246.8 668.1,246.6" fill="#f2a098"/></g>
<g opacity="0.75"><polygon points="804.6,180.5 806.1,181.8 807.6,183.1 809.1,184.5 810.5,185.9 811.9,187.3 813.4,188.8 814.7,190.3 816.1,191.8 817.5,193.4 818.8,195.0 820.1,196.6 821.3,198.2 822.6,199.9 823.8,201.6 825.0,203.4 826.1,205.1 827.2,206.9 828.3,208.7 829.4,210.5 830.4,212.4 831.4,214.2 832.3,216.1 833.3,218.0 834.1,219.9 835.0,221.8 835.7,223.7 836.5,225.7 837.2,227.6 837.9,229.6 838.5,231.6 839.1,233.5 839.6,235.5 840.1,237.5 840.5,239.4 840.9,241.4 841.2,243.4 841.5,245.3 841.7,247.3 841.9,249.3 842.0,251.3 848.0,250.7 847.8,248.7 847.5,246.6 847.1,244.5 846.7,242.4 846.3,240.3 845.8,238.2 845.2,236.1 844.6,234.1 843.9,232.0 843.2,230.0 842.5,227.9 841.7,225.9 840.9,223.9 840.0,221.9 839.1,220.0 838.1,218.0 837.1,216.1 836.0,214.2 835.0,212.3 833.8,210.4 832.7,208.5 831.5,206.7 830.3,204.9 829.0,203.1 827.7,201.4 826.4,199.7 825.1,198.0 823.7,196.3 822.3,194.7 820.9,193.1 819.4,191.6 818.0,190.1 816.5,188.6 814.9,187.2 813.4,185.8 811.8,184.4 810.2,183.1 808.6,181.9 807.0,180.7 805.4,179.5" fill="#f09a92"/>
<polygon points="846.4,269.7 831.9,236.9 844.5,244.8 855.9,235.2" fill="#f2a098"/></g>
<g font-weight="bold" font-size="17">
<text x="222.3" y="103">Borax</text>
<text x="223.6" y="150.9">Rapid</text>
<text x="212.3" y="167.6">gelation</text>
<text x="598.2" y="150.2">UV</text>
</g>
<defs>
<linearGradient id="bgC" x1="0" y1="0" x2="0" y2="1">
 <stop offset="0" stop-color="#06bee6"/><stop offset="0.5" stop-color="#02bce6"/><stop offset="1" stop-color="#00bbe8"/>
</linearGradient>
<linearGradient id="glassG" x1="0" y1="0" x2="1" y2="0">
 <stop offset="0" stop-color="#d0f4fa" stop-opacity="0.4"/><stop offset="0.2" stop-color="#e0f8fb" stop-opacity="0.22"/><stop offset="0.6" stop-color="#90e0f0" stop-opacity="0.12"/><stop offset="1" stop-color="#c8f0f8" stop-opacity="0.35"/>
</linearGradient>
<linearGradient id="capG" x1="0" y1="0" x2="1" y2="0">
 <stop offset="0" stop-color="#1a2436"/><stop offset="0.3" stop-color="#0c1420"/><stop offset="1" stop-color="#141c2c"/>
</linearGradient>
<linearGradient id="clipG" x1="0" y1="0" x2="1" y2="1">
 <stop offset="0" stop-color="#5a88c8"/><stop offset="1" stop-color="#22407a"/>
</linearGradient>
</defs>
<rect x="23" y="640" width="519" height="222.5" fill="url(#bgC)"/>
<rect x="196" y="640" width="1" height="222.5" fill="#2ab0da" opacity="0.5"/>
<rect x="366" y="640" width="1" height="222.5" fill="#2ab0da" opacity="0.5"/>
<g transform="translate(60.3,773.2) rotate(42.25)">
<clipPath id="vc1"><path d="M-23,-88.08705626210461 L23,-88.08705626210461 L23,-8 Q23,0 15,0 L-15,0 Q-23,0 -23,-8 Z"/></clipPath>
<path d="M-23,-88.08705626210461 L23,-88.08705626210461 L23,-8 Q23,0 15,0 L-15,0 Q-23,0 -23,-8 Z" fill="url(#glassG)" stroke="#d0f4fa" stroke-width="0.8" stroke-opacity="0.5"/>
<rect x="-20" y="-84.08705626210461" width="2.5" height="78.08705626210461" fill="#ffffff" opacity="0.25"/><rect x="17" y="-84.08705626210461" width="2" height="78.08705626210461" fill="#ffffff" opacity="0.15"/>
<rect x="-21" y="-91.08705626210461" width="42" height="5" fill="#6ac8de" opacity="0.6"/>
<rect x="-24" y="-115.08705626210461" width="48" height="27" rx="4" fill="url(#capG)"/>
<g stroke="#2a3448" stroke-width="0.6" opacity="0.8"><line x1="-10" y1="-113.58705626210461" x2="-10" y2="-92.58705626210461"/><line x1="0" y1="-113.58705626210461" x2="0" y2="-92.58705626210461"/><line x1="10" y1="-113.58705626210461" x2="10" y2="-92.58705626210461"/></g>
<rect x="-24" y="-95.58705626210461" width="48" height="7.5" fill="#060a10" opacity="0.7"/><path d="M-21,-113.58705626210461 L21,-113.58705626210461" stroke="#3a4660" stroke-width="1" opacity="0.7"/>
</g>
<g clip-path="url(#vc1w)"></g>
<path d="M44.4,755.5 L105.7,757.3 L80,788 Q76,792 71,789.5 L46,770 Q43,766 44.4,755.5 Z" fill="#bcd8a6" opacity="0.9"/>
<path d="M46,762 L98,762 L90,770 L52,770 Z" fill="#c8e0b0" opacity="0.5"/>
<line x1="50.7" y1="761" x2="101.2" y2="761" stroke="#f01818" stroke-width="2.2" stroke-dasharray="5,3.5"/>
<g transform="translate(238.3,768.5) rotate(41.66)">
<clipPath id="vc2"><path d="M-23,-84.74281144185562 L23,-84.74281144185562 L23,-8 Q23,0 15,0 L-15,0 Q-23,0 -23,-8 Z"/></clipPath>
<path d="M-23,-84.74281144185562 L23,-84.74281144185562 L23,-8 Q23,0 15,0 L-15,0 Q-23,0 -23,-8 Z" fill="url(#glassG)" stroke="#d0f4fa" stroke-width="0.8" stroke-opacity="0.5"/>
<rect x="-20" y="-80.74281144185562" width="2.5" height="74.74281144185562" fill="#ffffff" opacity="0.25"/><rect x="17" y="-80.74281144185562" width="2" height="74.74281144185562" fill="#ffffff" opacity="0.15"/>
<g clip-path="url(#vc2)"><rect x="-25" y="-28" width="50" height="30" fill="#a8d6cc" opacity="0.9"/><rect x="-20" y="-27" width="40" height="6" fill="#d0ece4" opacity="0.5"/></g>
<rect x="-21" y="-87.74281144185562" width="42" height="5" fill="#6ac8de" opacity="0.6"/>
<rect x="-24" y="-111.74281144185562" width="48" height="27" rx="4" fill="url(#capG)"/>
<g stroke="#2a3448" stroke-width="0.6" opacity="0.8"><line x1="-10" y1="-110.24281144185562" x2="-10" y2="-89.24281144185562"/><line x1="0" y1="-110.24281144185562" x2="0" y2="-89.24281144185562"/><line x1="10" y1="-110.24281144185562" x2="10" y2="-89.24281144185562"/></g>
<rect x="-24" y="-92.24281144185562" width="48" height="7.5" fill="#060a10" opacity="0.7"/><path d="M-21,-110.24281144185562 L21,-110.24281144185562" stroke="#3a4660" stroke-width="1" opacity="0.7"/>
</g>
<line x1="236.9" y1="734.8" x2="275.7" y2="764.5" stroke="#f01818" stroke-width="2.2" stroke-dasharray="5,3.5"/>
<g transform="translate(409.7,768.1) rotate(41.50)">
<clipPath id="vc3"><path d="M-23,-83.83786519130156 L23,-83.83786519130156 L23,-8 Q23,0 15,0 L-15,0 Q-23,0 -23,-8 Z"/></clipPath>
<path d="M-23,-83.83786519130156 L23,-83.83786519130156 L23,-8 Q23,0 15,0 L-15,0 Q-23,0 -23,-8 Z" fill="url(#glassG)" stroke="#d0f4fa" stroke-width="0.8" stroke-opacity="0.5"/>
<rect x="-20" y="-79.83786519130156" width="2.5" height="73.83786519130156" fill="#ffffff" opacity="0.25"/><rect x="17" y="-79.83786519130156" width="2" height="73.83786519130156" fill="#ffffff" opacity="0.15"/>
<g clip-path="url(#vc3)"><rect x="-25" y="-29" width="50" height="31" fill="#d0e6e0"/><rect x="-22" y="-10" width="44" height="10" fill="#bcd8d4" opacity="0.8"/></g>
<rect x="-21" y="-86.83786519130156" width="42" height="5" fill="#6ac8de" opacity="0.6"/>
<rect x="-24" y="-110.83786519130156" width="48" height="27" rx="4" fill="url(#capG)"/>
<g stroke="#2a3448" stroke-width="0.6" opacity="0.8"><line x1="-10" y1="-109.33786519130156" x2="-10" y2="-88.33786519130156"/><line x1="0" y1="-109.33786519130156" x2="0" y2="-88.33786519130156"/><line x1="10" y1="-109.33786519130156" x2="10" y2="-88.33786519130156"/></g>
<rect x="-24" y="-91.33786519130156" width="48" height="7.5" fill="#060a10" opacity="0.7"/><path d="M-21,-109.33786519130156 L21,-109.33786519130156" stroke="#3a4660" stroke-width="1" opacity="0.7"/>
</g>
<line x1="409.7" y1="733" x2="447.6" y2="763.6" stroke="#f01818" stroke-width="2.2" stroke-dasharray="5,3.5"/>
<path d="M96.3,755.2 L126.3,735.2 Q130.3,735.2 127.3,742.2 L104.3,763.2" fill="none" stroke="#a8b4bc" stroke-width="1.3"/>
<path d="M112.0,785.0 C122.3,784.2 130.3,782.2 137.3,782.7 C146.3,783.2 150.3,791.2 142.3,792.7 C132.3,793.2 122.3,793.2 113.1,793.4" fill="none" stroke="#a8b0b8" stroke-width="1.4"/>
<polygon points="72.3,787.2 104.7,765.2 110.3,772.2 115.3,801.8 111.3,808.2 74.2,808.2" fill="#2c7ed8"/>
<polygon points="78.4,794.4 102.6,776.6 113.1,801.8 79.5,803.9" fill="#0f2866"/>
<polygon points="72.1,788.1 104.7,765.6 109.9,772.4 78.4,794.4" fill="#4a9ae6"/>
<polygon points="73.2,803.2 113.1,802.2 111.0,808.1 74.2,808.1" fill="#1c4a9a"/>
<line x1="73.3" y1="791.2" x2="106.3" y2="768.2" stroke="#1a3060" stroke-width="0.8" opacity="0.7"/>
<circle cx="73.7" cy="798.1" r="2.4" fill="#0a1420"/><circle cx="75.8" cy="804.9" r="2.4" fill="#0a1420"/>
<path d="M274.3,750.5 L304.3,730.5 Q308.3,730.5 305.3,737.5 L282.3,758.5" fill="none" stroke="#a8b4bc" stroke-width="1.3"/>
<path d="M290.0,780.3 C300.3,779.5 308.3,777.5 315.3,778.0 C324.3,778.5 328.3,786.5 320.3,788.0 C310.3,788.5 300.3,788.5 291.1,788.7" fill="none" stroke="#a8b0b8" stroke-width="1.4"/>
<polygon points="250.3,782.5 282.7,760.5 288.3,767.5 293.3,797.1 289.3,803.5 252.2,803.5" fill="#2c7ed8"/>
<polygon points="256.4,789.7 280.6,771.9 291.1,797.1 257.5,799.2" fill="#0f2866"/>
<polygon points="250.1,783.4 282.7,760.9 287.9,767.7 256.4,789.7" fill="#4a9ae6"/>
<polygon points="251.2,798.5 291.1,797.5 289.0,803.4 252.2,803.4" fill="#1c4a9a"/>
<line x1="251.3" y1="786.5" x2="284.3" y2="763.5" stroke="#1a3060" stroke-width="0.8" opacity="0.7"/>
<circle cx="251.7" cy="793.4" r="2.4" fill="#0a1420"/><circle cx="253.8" cy="800.2" r="2.4" fill="#0a1420"/>
<path d="M445.7,750.1 L475.7,730.1 Q479.7,730.1 476.7,737.1 L453.7,758.1" fill="none" stroke="#a8b4bc" stroke-width="1.3"/>
<path d="M461.4,779.9 C471.7,779.1 479.7,777.1 486.7,777.6 C495.7,778.1 499.7,786.1 491.7,787.6 C481.7,788.1 471.7,788.1 462.5,788.3" fill="none" stroke="#a8b0b8" stroke-width="1.4"/>
<polygon points="421.7,782.1 454.1,760.1 459.7,767.1 464.7,796.7 460.7,803.1 423.6,803.1" fill="#2c7ed8"/>
<polygon points="427.8,789.3 452.0,771.5 462.5,796.7 428.9,798.8" fill="#0f2866"/>
<polygon points="421.5,783.0 454.1,760.5 459.3,767.3 427.8,789.3" fill="#4a9ae6"/>
<polygon points="422.6,798.1 462.5,797.1 460.4,803.0 423.6,803.0" fill="#1c4a9a"/>
<line x1="422.7" y1="786.1" x2="455.7" y2="763.1" stroke="#1a3060" stroke-width="0.8" opacity="0.7"/>
<circle cx="423.1" cy="793.0" r="2.4" fill="#0a1420"/><circle cx="425.2" cy="799.8" r="2.4" fill="#0a1420"/>
<line x1="160" y1="849.7" x2="218" y2="849.7" stroke="#000" stroke-width="2"/><polygon points="214,845.5 236,849.7 214,853.9" fill="#000"/>
<line x1="338" y1="849.7" x2="392" y2="849.7" stroke="#000" stroke-width="2"/><polygon points="388,845.5 410,849.7 388,853.9" fill="#000"/>
<g font-weight="bold" font-size="17.1">
<text x="144.5" y="834">Adding Borax</text>
<text x="311.5" y="834">UV crosslinking</text>
</g>
<g id="chart">
<rect x="849.2" y="664" width="3" height="102" fill="#c8c8f4" opacity="0.7"/>
<rect x="914.9" y="663" width="3" height="103" fill="#c8c8f4" opacity="0.7"/>
<rect x="839.2" y="666" width="2.4" height="52" fill="#d8d8f8" opacity="0.6"/>
<polyline points="587.0,663.4 587.6,663.2 588.2,663.7 588.9,663.2 589.6,663.6 590.5,663.5 591.3,663.3 592.3,663.6 593.2,663.3 594.3,663.6 595.3,663.4 596.4,663.4 597.5,663.7 598.7,664.0 599.9,663.5 601.0,663.6 602.2,664.0 603.4,664.3 604.7,664.0 605.9,663.9 607.1,664.4 608.3,663.7 609.5,664.4 610.6,664.1 611.8,664.0 612.9,664.1 614.0,664.3 615.0,664.8 616.0,664.3 617.0,664.8 617.9,664.9 618.8,664.8 620.1,665.1 621.3,664.9 622.5,665.1 623.6,665.5 624.7,666.1 625.8,666.1 626.8,666.3 627.8,666.8 628.8,666.9 629.7,667.1 630.7,667.8 631.6,668.0 632.5,667.9 633.4,668.5 634.4,668.8 635.3,669.4 636.2,669.6 637.1,669.5 638.0,670.4 639.0,670.0 640.1,670.6 641.1,671.3 642.1,671.2 643.1,671.9 644.0,672.1 645.0,673.0 645.9,673.6 646.9,673.9 647.9,674.7 648.8,674.7 649.8,675.4 650.8,675.7 651.8,676.1 652.8,676.3 653.9,676.9 655.0,677.2 656.1,676.9 657.3,677.1 658.2,676.6 659.1,677.1 660.1,676.9 661.1,677.1 662.2,676.8 663.2,676.1 664.3,675.9 665.4,675.9 666.6,675.1 667.7,675.1 668.8,674.6 670.0,674.2 671.1,673.8 672.2,674.0 673.3,673.2 674.4,672.9 675.4,672.7 676.4,672.8 677.4,671.9 678.4,671.9 679.3,671.7 680.1,671.8 680.9,671.5 681.6,671.4 682.3,670.8 684.5,670.7 686.0,670.7 686.9,671.3 687.6,671.7 688.2,671.5 689.0,672.0 690.3,673.2 691.5,674.8 692.6,676.4 693.8,677.1 694.7,676.5 695.6,675.5 696.5,674.7 697.6,673.6 698.8,672.8 699.5,672.6 700.0,671.9 700.4,671.2 700.9,670.8 701.8,670.4 703.0,669.4 704.9,669.7 707.6,669.2 708.2,669.2 708.9,669.1 709.5,668.7 710.2,668.6 711.0,668.3 711.7,668.7 712.5,668.2 713.3,668.1 714.1,668.2 714.9,668.1 715.8,668.2 716.7,667.9 717.6,667.8 718.5,667.9 719.4,667.8 720.4,668.0 721.4,667.6 722.3,668.3 723.4,668.0 724.4,667.6 725.4,667.6 726.5,667.7 727.5,667.6 728.6,667.4 729.7,667.9 730.8,668.0 732.0,667.5 733.1,667.5 734.2,667.1 735.4,667.1 736.6,667.2 737.7,667.1 738.9,667.5 740.1,666.9 741.3,666.8 742.5,667.5 743.7,667.1 744.9,666.7 746.1,667.0 747.4,666.5 748.6,666.8 749.5,667.1 750.3,667.0 751.2,666.8 752.2,666.4 753.1,666.4 754.1,666.2 755.1,666.7 756.1,666.4 757.1,666.5 758.1,666.1 759.2,666.0 760.3,666.4 761.4,666.4 762.5,666.3 763.6,666.1 764.7,666.1 765.8,665.9 767.0,665.5 768.1,665.6 769.3,665.4 770.4,665.1 771.6,665.0 772.7,665.1 773.9,665.0 775.1,665.3 776.2,665.5 777.4,665.0 778.6,665.3 779.7,665.3 780.9,665.2 782.0,664.6 783.2,664.4 784.3,664.4 785.5,664.3 786.6,664.2 787.7,664.5 788.8,664.7 789.9,664.6 791.0,664.2 792.0,664.3 793.1,664.4 794.1,663.8 795.1,664.2 796.1,664.3 797.1,664.2 798.0,664.1 798.9,663.9 799.9,663.6 800.7,664.1 801.6,663.7 802.4,664.1 803.2,664.2 804.0,663.7 804.8,663.7 805.5,664.2 806.2,664.0 806.8,663.6 807.5,663.6 808.0,663.6 808.6,664.2 813.7,665.2 814.4,666.6 813.4,669.2 813.0,670.9 813.8,670.7 814.7,671.9 815.7,675.9 817.1,681.2 818.4,686.4 819.5,690.1 820.8,686.8 822.0,680.8 823.1,678.8 824.4,676.5 825.7,676.3 826.7,677.6 827.8,679.7 828.8,682.1 830.0,682.8 831.0,681.2 832.0,678.5 833.0,674.7 834.1,671.9 835.3,670.3 836.3,671.4 837.4,672.5 838.5,674.8 839.7,677.2 840.8,679.3 841.9,679.9 843.1,680.3 844.3,679.2 845.5,678.1 846.6,676.8 847.7,675.3 848.5,675.0 849.8,674.9 850.7,675.3 852.0,674.3 853.6,673.2 854.5,674.9 855.4,677.5 856.5,679.9 857.6,681.7 858.8,682.3 859.8,681.1 860.9,678.8 862.0,675.1 863.1,672.3 864.3,669.7 865.4,668.6 866.5,669.6 867.6,671.2 868.7,673.7 869.7,676.5 870.9,678.9 872.0,680.0 873.0,680.6 874.1,680.7 875.2,680.6 876.2,680.4 877.3,679.7 878.3,679.2 879.3,678.6 880.5,678.0 881.5,676.5 882.5,675.2 883.7,673.8 885.2,671.8 886.0,671.4 886.9,671.0 887.9,670.2 888.9,668.8 890.0,668.1 891.1,667.6 892.1,666.6 893.2,666.0 894.3,665.3 895.3,665.3 896.2,664.9 897.4,664.6 898.6,663.7 899.8,664.0 900.9,663.9 902.0,663.5 903.0,664.2 904.0,664.3 905.0,663.8 906.3,664.4 907.4,664.0 908.6,664.2 909.6,664.9 910.7,665.1 911.6,665.1 912.8,666.8 913.8,668.8 914.8,670.6 916.0,671.8 916.9,672.2 917.7,672.7 918.6,672.0 919.6,672.3 920.7,672.0 922.0,671.6 922.9,671.9 923.9,672.1 925.1,672.0 926.3,671.7 927.5,672.4 928.7,672.2 929.8,672.4 930.7,671.7 931.6,671.8 932.2,672.0" fill="none" stroke="#cf9c1c" stroke-width="1.7" stroke-linejoin="round"/>
<polyline points="587.0,701.6 587.5,702.3 588.1,701.9 588.8,701.8 589.5,702.1 590.3,702.5 591.1,702.4 592.0,702.0 592.9,702.0 593.9,702.6 594.8,702.4 595.9,702.5 596.9,702.1 598.0,702.1 599.1,702.7 600.3,702.5 601.4,702.3 602.6,703.0 603.8,702.8 605.0,703.0 606.2,702.5 607.4,703.1 608.6,702.6 609.8,703.3 611.0,703.0 612.2,703.0 613.4,703.2 614.5,703.6 615.7,703.1 616.8,703.0 617.9,703.4 619.0,703.3 620.0,703.2 621.0,703.4 622.0,703.3 623.0,703.5 623.9,703.7 624.7,703.8 625.5,704.2 626.9,704.0 628.3,704.3 629.6,704.2 630.9,704.5 632.1,704.4 633.3,704.8 634.4,704.7 635.4,705.5 636.5,705.5 637.5,705.4 638.4,705.9 639.3,706.4 640.2,706.0 641.1,706.8 641.9,706.7 642.7,707.0 643.5,707.5 644.3,707.4 645.1,707.7 645.8,708.2 647.4,709.1 648.7,709.4 649.9,710.8 651.0,711.7 652.0,712.6 652.8,713.3 653.7,714.0 654.5,714.3 655.3,714.6 656.6,714.2 657.7,713.6 658.7,711.8 659.6,710.4 660.7,709.7 661.7,710.3 662.7,710.7 663.7,711.2 664.7,711.5 665.8,711.9 666.8,712.0 667.7,711.8 668.4,710.8 669.1,710.2 670.0,709.1 671.2,708.9 672.8,708.4 673.5,707.9 674.4,707.6 675.3,708.2 676.4,707.7 677.5,707.7 678.6,707.5 679.8,707.8 681.0,708.0 682.2,708.1 683.4,707.9 684.5,708.2 685.6,707.9 686.7,708.2 687.7,708.1 688.6,708.4 689.3,708.2 690.0,708.2 692.0,708.7 692.4,708.8 693.1,708.9 693.6,708.4 693.8,707.9 694.3,707.0 695.7,706.4 698.8,705.9 699.4,705.4 700.1,705.3 700.8,705.8 701.5,705.1 702.3,705.5 703.1,705.3 704.0,704.8 704.9,705.4 705.8,705.4 706.8,705.1 707.8,705.1 708.8,705.1 709.8,704.5 710.9,704.8 712.0,704.7 713.1,704.9 714.2,704.9 715.3,704.9 716.5,704.6 717.6,704.8 718.7,704.6 719.9,704.6 721.0,704.2 722.2,704.0 723.3,704.0 724.5,704.2 725.6,704.0 726.7,704.5 727.8,704.3 728.9,704.3 729.9,704.3 731.0,704.4 732.0,704.2 733.0,703.8 734.0,704.4 735.1,704.4 736.1,704.2 737.2,704.3 738.3,704.4 739.4,703.9 740.4,704.5 741.5,704.1 742.6,704.0 743.7,704.2 744.8,704.6 745.9,704.3 747.0,704.7 748.1,705.0 749.1,704.6 750.2,704.6 751.3,704.7 752.3,705.0 753.4,705.1 754.4,705.0 755.4,705.1 756.4,704.7 757.4,704.8 758.3,705.0 759.3,705.4 760.2,705.1 761.1,705.4 762.0,705.0 762.8,705.1 763.7,705.3 764.5,705.7 765.3,705.7 766.0,705.7 767.6,705.5 769.0,705.8 770.4,705.9 771.6,706.0 772.7,705.8 773.7,706.5 774.7,706.1 775.6,706.8 776.4,706.8 777.3,706.1 778.1,706.5 779.0,706.8 779.9,706.9 780.8,706.4 782.0,706.0 783.1,705.7 784.1,706.0 785.1,705.0 786.1,704.9 787.1,704.1 788.1,704.0 789.1,704.0 790.1,703.0 791.3,703.2 792.5,702.7 793.4,702.9 794.4,702.6 795.4,702.1 796.5,702.5 797.5,702.0 798.7,701.5 799.8,701.4 800.9,701.7 802.0,701.6 803.1,701.4 804.2,701.3 805.2,701.5 806.1,701.5 807.0,702.0 807.9,701.4 808.6,702.2 810.5,703.0 811.8,703.3 812.8,705.2 813.6,706.7 814.5,708.9 816.0,714.2 817.2,721.2 818.4,725.6 819.6,726.2 820.8,723.4 822.0,720.4 823.3,717.0 824.5,713.0 825.7,710.6 826.9,714.1 828.6,717.9 829.4,716.6 830.4,715.5 831.5,712.9 832.6,710.7 833.8,708.9 834.9,707.1 836.0,706.5 837.2,707.4 838.3,708.7 839.4,710.5 840.5,712.4 841.5,714.2 842.6,715.0 843.8,714.2 844.8,712.8 845.9,710.5 847.0,709.5 848.5,708.8 849.4,709.3 850.3,709.8 851.4,710.4 852.5,711.3 853.6,713.1 854.7,713.5 855.8,714.7 856.9,715.4 857.9,715.8 858.8,716.2 860.1,715.4 861.1,712.8 862.1,710.7 863.0,707.9 864.1,706.1 865.4,704.9 866.2,704.7 867.1,705.0 868.1,705.7 869.1,707.0 870.1,707.6 871.1,708.3 872.2,709.8 873.2,710.7 874.3,711.0 875.4,711.2 876.4,711.5 877.4,711.3 878.4,711.2 879.5,710.6 880.5,710.2 881.5,709.5 882.6,709.1 883.6,708.6 884.7,707.8 885.8,706.8 886.9,706.2 888.0,705.8 889.0,705.3 890.0,704.9 891.0,704.4 892.1,704.2 893.2,704.4 894.2,703.4 895.3,703.4 896.4,703.2 897.5,703.2 898.5,702.4 899.5,702.3 900.5,702.1 901.4,702.1 902.6,702.1 903.7,702.4 904.9,702.3 906.0,702.4 907.1,701.8 908.1,701.9 909.1,702.7 910.0,703.1 910.8,703.1 911.6,703.7 913.0,705.0 914.0,707.8 914.8,710.6 916.0,712.0 916.9,712.2 917.9,712.1 918.9,711.1 920.0,710.4 921.1,709.7 922.2,709.4 923.4,708.9 924.5,708.7 925.7,708.0 927.0,707.4 928.3,706.9 929.5,706.2 930.6,705.7 931.5,704.9 932.2,705.0" fill="none" stroke="#a86ee0" stroke-width="1.7" stroke-linejoin="round"/>
<polyline points="587.0,737.4 587.5,737.0 588.1,737.6 588.8,737.4 589.5,737.1 590.2,736.9 591.0,737.0 591.8,737.4 592.7,737.4 593.6,736.9 594.5,736.9 595.5,737.3 596.5,737.3 597.6,737.1 598.6,737.0 599.7,737.3 600.8,736.8 601.9,737.1 603.1,737.2 604.2,737.6 605.4,737.4 606.6,737.6 607.7,737.3 608.9,737.1 610.1,737.2 611.3,737.8 612.4,737.6 613.6,737.4 614.7,737.2 615.9,737.6 617.0,737.9 618.1,737.7 619.2,737.7 620.2,738.1 621.3,738.5 622.3,738.0 623.3,738.0 624.2,738.4 625.3,738.6 626.4,739.1 627.5,738.9 628.5,739.7 629.6,739.9 630.6,740.0 631.7,740.1 632.7,741.1 633.7,740.9 634.7,741.7 635.7,741.6 636.7,742.0 637.7,742.8 638.7,742.9 639.7,743.8 640.7,743.8 641.7,744.0 642.7,744.4 643.6,744.9 644.6,745.5 645.6,746.1 646.6,745.8 647.5,746.3 648.5,746.4 649.5,747.3 650.4,746.9 651.4,747.1 652.4,747.3 653.3,747.7 654.3,748.2 655.3,748.3 656.4,748.2 657.4,748.5 658.5,748.4 659.7,747.9 660.8,747.6 662.0,748.1 663.1,747.8 664.3,747.1 665.4,747.4 666.6,746.9 667.8,746.7 668.9,746.4 670.1,746.0 671.2,745.6 672.3,745.6 673.4,745.4 674.5,745.6 675.6,744.6 676.6,745.1 677.7,744.2 678.6,744.1 679.6,744.3 680.5,744.1 681.4,743.6 682.2,743.1 683.0,743.3 683.7,743.2 684.4,743.6 685.0,743.0 687.6,743.5 688.9,744.9 689.3,745.5 689.5,747.1 690.0,748.3 690.9,749.5 691.6,749.7 693.1,749.5 693.7,749.2 694.3,749.4 695.0,748.2 695.6,747.8 696.4,747.1 697.3,745.8 698.4,744.9 699.7,744.6 701.3,743.7 703.2,742.8 703.9,743.0 704.6,742.5 705.2,742.4 705.9,742.0 706.6,742.5 707.3,742.5 708.0,742.1 708.8,742.3 709.5,741.4 710.3,741.5 711.1,741.6 711.9,741.9 712.7,741.8 713.6,741.2 714.5,741.1 715.5,741.1 716.4,741.1 717.5,741.3 718.5,740.7 719.6,741.1 720.8,741.0 722.0,740.9 723.3,740.8 724.6,740.6 726.0,740.3 727.4,740.2 729.0,740.2 730.5,740.4 732.2,739.8 733.9,739.8 734.6,740.2 735.4,739.7 736.2,739.5 737.0,739.5 737.8,739.8 738.7,739.6 739.6,740.1 740.5,739.9 741.4,740.0 742.3,739.3 743.3,739.1 744.3,739.1 745.3,739.3 746.3,739.5 747.4,739.2 748.4,739.0 749.5,739.0 750.6,739.1 751.7,739.1 752.8,739.1 754.0,739.1 755.1,738.9 756.3,738.4 757.4,738.9 758.6,738.4 759.8,738.6 761.0,738.4 762.1,738.6 763.3,738.1 764.5,738.1 765.7,738.0 766.9,737.9 768.2,738.4 769.4,738.1 770.6,737.8 771.8,737.8 773.0,738.3 774.2,737.8 775.4,737.5 776.6,737.9 777.8,737.8 779.0,738.0 780.1,737.2 781.3,737.5 782.5,737.7 783.6,737.7 784.8,737.7 785.9,736.9 787.0,737.1 788.1,736.9 789.2,736.9 790.3,737.5 791.4,737.2 792.4,737.4 793.4,737.0 794.4,737.3 795.4,737.0 796.4,736.8 797.4,737.2 798.3,737.3 799.2,736.6 800.1,737.0 800.9,737.0 801.8,736.7 802.6,736.8 803.4,736.7 804.1,736.7 804.9,736.8 805.6,737.1 806.2,737.1 806.9,736.8 807.5,736.6 808.1,736.9 808.6,737.2 814.5,740.6 811.5,745.0 812.7,745.6 813.9,745.9 815.2,746.6 816.3,750.1 817.4,755.1 818.9,757.7 819.8,757.2 820.8,755.7 821.8,753.2 822.9,750.8 824.0,749.0 825.1,746.9 826.0,745.8 827.3,746.1 828.5,748.4 829.6,749.8 830.7,750.8 831.9,749.1 833.1,746.4 834.2,744.4 835.5,744.0 836.5,745.4 837.6,748.8 838.7,753.3 839.8,756.4 841.0,758.2 841.9,759.0 842.9,757.9 844.0,756.9 845.0,755.0 846.1,753.9 847.1,752.2 848.0,751.2 849.2,750.7 850.4,751.1 851.4,751.5 852.5,752.3 853.6,752.7 854.7,755.1 855.7,757.8 856.8,760.9 857.9,762.8 859.0,763.2 860.0,761.5 861.0,758.2 862.1,753.1 863.2,749.1 864.3,746.0 865.4,744.8 866.4,744.9 867.4,747.1 868.4,750.8 869.4,754.4 870.4,757.4 871.4,759.8 872.5,762.1 873.6,762.2 874.8,762.5 876.0,761.7 877.2,760.9 878.4,759.1 879.4,758.4 880.4,756.8 881.7,754.7 882.6,752.4 883.6,749.6 885.1,746.5 885.9,745.6 886.9,744.7 888.0,743.7 889.2,742.5 890.4,741.2 891.5,740.3 892.7,739.8 893.7,739.2 894.6,738.0 895.4,738.0 896.8,738.9 897.5,740.5 898.5,742.3 899.4,741.2 900.4,740.7 901.5,739.4 902.6,738.2 903.8,737.0 904.8,736.5 906.0,736.6 907.1,736.9 908.1,737.7 909.2,738.5 910.4,739.7 911.4,740.6 912.4,742.8 913.5,744.6 914.6,746.3 915.6,748.3 916.7,749.4 917.7,749.7 918.7,749.7 919.7,749.8 920.7,749.3 921.8,749.1 923.0,749.1 924.0,748.8 925.1,749.0 926.3,749.0 927.5,748.5 928.7,748.9 929.8,748.3 930.9,748.7 931.8,748.7 932.4,748.4" fill="none" stroke="#2f9d58" stroke-width="1.7" stroke-linejoin="round"/>
<polyline points="587.2,769.0 587.7,768.7 588.3,769.0 589.0,768.9 589.7,769.4 590.4,768.7 591.2,769.3 592.0,769.4 592.9,769.2 593.8,769.3 594.8,768.8 595.7,769.4 596.7,769.0 597.8,769.3 598.8,769.3 599.9,768.7 601.0,769.2 602.2,769.3 603.3,768.6 604.4,768.9 605.6,769.2 606.8,768.8 608.0,769.4 609.1,769.0 610.3,769.5 611.5,769.0 612.7,769.4 613.8,769.8 615.0,769.3 616.1,769.5 617.3,769.8 618.4,769.8 619.5,769.8 620.6,770.0 621.6,770.2 622.6,771.1 623.6,771.1 624.7,771.6 625.7,771.3 626.8,772.1 627.9,771.9 629.0,772.6 630.1,773.1 631.2,773.3 632.3,774.1 633.4,774.3 634.5,774.7 635.6,775.4 636.7,775.3 637.8,776.5 638.9,776.6 640.0,776.9 641.1,777.7 642.2,777.7 643.3,778.8 644.3,778.9 645.4,779.1 646.4,779.9 647.5,780.0 648.5,780.2 649.5,781.0 650.5,780.8 651.4,781.8 652.4,781.6 653.3,782.2 654.2,782.7 655.0,782.6 655.9,782.9 656.7,782.7 657.5,782.6 659.0,782.7 660.4,782.8 661.7,783.1 662.9,782.8 664.1,782.6 665.2,782.5 666.3,781.5 667.3,781.2 668.3,781.0 669.2,780.0 670.1,779.5 671.0,779.3 671.8,778.6 672.6,778.3 673.4,777.8 674.2,777.7 675.0,777.3 675.8,776.8 677.2,776.7 678.4,776.3 679.6,775.7 680.6,776.1 681.6,775.3 682.6,775.0 683.5,774.9 684.3,775.2 685.2,775.3 686.0,775.2 687.2,775.1 688.2,775.5 689.0,775.8 689.9,776.9 691.1,777.1 692.6,776.9 693.3,777.0 694.0,776.6 694.6,776.7 695.3,776.2 696.0,775.4 696.7,775.5 697.5,774.3 698.4,774.3 699.3,773.7 700.4,773.1 701.5,772.5 702.8,772.7 704.2,771.7 705.8,771.8 707.6,771.9 708.3,771.1 709.0,771.1 709.7,771.4 710.5,771.2 711.3,771.2 712.0,771.3 712.8,770.7 713.7,770.8 714.5,770.7 715.4,770.5 716.2,771.1 717.1,771.0 718.0,770.9 718.9,770.3 719.9,770.9 720.8,770.8 721.8,770.6 722.8,770.8 723.8,770.5 724.8,770.3 725.8,770.2 726.8,770.2 727.9,770.1 728.9,770.3 730.0,770.6 731.1,770.5 732.2,770.6 733.3,770.5 734.4,770.1 735.6,770.3 736.7,770.2 737.8,770.5 739.0,770.2 740.2,770.0 741.3,770.3 742.5,770.5 743.7,769.9 744.9,770.4 746.2,769.7 747.4,769.8 748.6,769.8 749.5,770.2 750.3,770.3 751.2,770.1 752.2,769.7 753.1,770.2 754.1,769.7 755.1,769.6 756.1,770.1 757.1,769.8 758.1,769.8 759.2,769.7 760.3,769.9 761.3,769.5 762.4,769.7 763.5,769.6 764.7,769.7 765.8,769.3 766.9,769.4 768.1,769.3 769.2,769.0 770.4,768.9 771.5,769.2 772.7,768.7 773.8,769.3 775.0,768.6 776.2,768.5 777.3,768.5 778.5,769.1 779.7,768.6 780.8,768.4 782.0,768.3 783.1,768.2 784.2,768.7 785.4,768.6 786.5,768.7 787.6,768.7 788.7,768.1 789.8,768.5 790.9,768.3 791.9,768.6 793.0,768.6 794.0,768.6 795.0,767.9 796.0,768.6 797.0,768.6 797.9,768.6 798.9,767.9 799.8,768.0 800.7,768.0 801.5,767.9 802.4,768.6 803.2,768.6 804.0,768.4 804.7,768.6 805.4,768.5 806.1,768.2 806.8,768.1 807.4,768.2 808.0,768.8 808.6,768.4 813.2,769.3 814.7,770.7 814.5,772.0 813.9,774.2 814.2,776.6 815.2,779.8 816.3,783.1 817.4,786.9 818.4,791.0 819.5,793.5 820.5,795.2 821.7,794.4 822.8,791.3 823.9,788.3 825.0,785.3 826.0,784.0 827.2,784.6 828.3,787.5 829.5,790.0 830.7,790.8 831.8,790.1 832.9,787.2 834.1,785.0 835.2,781.9 836.3,780.3 837.5,780.5 838.5,782.1 839.6,783.6 841.0,783.4 842.0,783.5 843.1,782.9 844.2,782.3 845.5,780.9 846.7,780.3 847.8,779.4 848.9,779.4 850.1,778.7 851.2,779.2 852.3,778.8 853.3,779.0 854.3,779.8 855.2,780.0 856.6,781.1 857.7,783.2 859.1,783.5 859.9,783.7 860.6,783.1 861.5,782.4 862.4,781.3 863.4,780.1 864.7,779.1 866.2,778.2 867.0,778.2 867.8,777.1 868.8,777.4 869.7,776.2 870.7,775.9 871.7,775.5 872.8,775.5 873.9,774.8 875.0,774.2 876.2,774.2 877.3,773.3 878.5,773.0 879.7,772.7 880.8,772.5 882.0,772.2 883.0,771.9 884.0,771.4 885.0,771.1 886.1,770.7 887.2,771.0 888.3,770.6 889.4,770.4 890.5,769.7 891.6,769.7 892.8,769.8 893.9,769.5 895.0,768.9 896.0,769.1 897.1,769.3 898.1,768.7 899.1,768.6 900.0,768.7 900.9,769.1 902.2,769.3 903.4,769.0 904.5,769.3 905.6,769.7 906.6,770.2 907.6,770.8 908.6,771.0 909.5,771.7 910.5,772.0 911.5,773.2 912.5,773.4 913.5,773.3 914.6,774.3 915.7,774.0 916.8,774.6 917.9,775.5 919.0,775.8 920.1,776.1 921.2,776.2 922.3,776.3 923.3,777.0 924.3,776.8 925.2,777.1 926.0,777.4 927.5,777.3 928.8,777.5 930.0,777.6 931.0,777.3 931.8,776.9 932.4,776.8" fill="none" stroke="#1f66dc" stroke-width="1.7" stroke-linejoin="round"/>
<polyline points="587.2,804.3 587.7,804.2 588.3,803.9 589.0,804.3 589.7,804.1 590.4,804.4 591.2,804.5 592.1,804.1 593.0,804.2 593.9,804.4 594.8,804.1 595.8,803.9 596.8,804.3 597.9,804.4 599.0,804.3 600.1,804.3 601.2,804.4 602.3,804.2 603.5,804.2 604.6,804.1 605.8,804.0 607.0,804.2 608.2,803.8 609.4,804.1 610.6,804.4 611.8,804.4 613.0,804.4 614.1,804.1 615.3,804.3 616.5,804.4 617.6,804.6 618.7,804.5 619.8,804.8 620.9,805.1 622.0,804.6 623.0,805.1 624.0,805.4 625.1,805.2 626.1,805.5 627.2,806.0 628.2,805.5 629.3,806.1 630.4,806.1 631.4,806.8 632.5,807.2 633.6,807.1 634.7,807.1 635.8,807.7 636.9,808.0 638.0,808.5 639.1,808.6 640.1,809.0 641.2,809.4 642.3,809.5 643.3,809.7 644.4,810.4 645.4,810.1 646.4,810.8 647.5,810.8 648.5,811.4 649.4,811.1 650.4,812.0 651.4,811.8 652.3,811.7 653.2,812.1 654.1,812.4 655.0,812.2 655.8,812.7 656.6,812.8 657.4,813.1 658.2,812.9 659.7,812.9 661.1,812.8 662.5,813.1 663.7,813.1 664.9,812.5 666.0,812.0 667.1,812.1 668.1,811.4 669.0,810.9 670.0,810.5 670.8,810.6 671.7,810.3 672.5,809.8 673.4,809.3 674.2,809.1 675.0,808.6 675.8,809.0 677.1,808.2 678.4,808.3 679.5,808.3 680.6,808.1 681.6,807.8 682.5,807.6 683.4,807.7 684.3,807.4 685.2,808.0 686.0,807.7 687.1,808.3 687.9,808.3 688.5,809.0 689.4,809.4 690.6,809.9 692.6,809.7 693.2,809.6 693.8,810.1 694.3,809.6 694.7,809.5 695.2,809.4 695.6,809.4 696.1,809.2 696.6,809.2 697.1,809.0 697.7,808.6 698.4,808.9 699.1,808.6 700.0,807.8 700.9,808.2 702.1,808.0 703.3,807.7 704.8,807.0 706.4,807.4 708.2,807.0 710.2,806.3 712.5,806.2 715.0,806.8 715.6,806.5 716.3,806.1 717.0,806.0 717.7,806.0 718.4,806.0 719.2,806.4 720.0,806.0 720.8,805.8 721.6,806.4 722.5,806.2 723.3,805.7 724.2,806.2 725.1,806.0 726.1,806.1 727.0,805.9 728.0,806.1 729.0,805.9 730.0,805.9 731.0,805.4 732.0,805.7 733.1,805.5 734.1,805.7 735.2,805.4 736.3,805.7 737.4,805.4 738.5,805.1 739.6,805.0 740.7,804.9 741.9,805.1 743.0,804.7 744.2,805.0 745.4,804.7 746.5,804.9 747.7,804.9 748.9,804.9 750.1,805.1 751.3,804.4 752.5,805.0 753.7,804.6 754.9,804.7 756.1,804.7 757.4,804.8 758.6,804.4 759.8,804.4 761.0,804.8 762.2,804.0 763.5,804.4 764.7,804.4 765.9,803.8 767.1,804.3 768.3,804.3 769.5,804.4 770.7,803.9 771.9,804.4 773.1,804.0 774.3,803.9 775.5,804.2 776.7,803.5 777.8,804.0 779.0,803.9 780.1,803.7 781.3,804.0 782.4,803.6 783.5,803.7 784.6,803.7 785.7,803.9 786.8,803.4 787.9,803.5 788.9,803.5 790.0,803.6 791.0,803.8 792.0,803.3 793.0,803.8 794.0,803.4 794.9,803.5 795.9,803.3 796.8,803.4 797.7,803.8 798.6,803.5 799.5,803.7 800.3,803.3 801.1,803.3 801.9,803.2 802.7,803.5 803.5,803.5 804.2,803.6 804.9,803.1 805.6,803.6 806.2,803.7 806.9,803.5 807.5,803.1 808.1,803.3 808.6,803.1 815.3,803.7 817.2,805.1 816.2,806.0 814.5,807.7 814.2,810.1 815.2,813.2 816.2,817.1 817.2,821.6 818.2,825.8 819.2,829.1 820.2,830.5 821.4,829.3 822.5,825.3 823.7,821.0 824.9,816.7 826.0,814.8 827.1,814.9 828.3,817.2 829.4,820.1 830.4,823.2 831.5,824.3 832.8,822.6 834.0,819.1 835.1,816.1 836.3,814.0 837.4,814.1 838.4,815.3 839.5,816.9 841.0,817.6 841.8,817.3 842.8,816.9 843.8,816.3 844.9,815.7 846.0,814.2 847.1,813.7 848.3,812.6 849.4,812.1 850.4,812.4 851.5,812.4 852.7,813.1 853.8,813.4 854.9,813.8 856.0,814.9 857.1,815.7 858.1,816.4 859.1,816.6 860.1,815.9 861.0,815.2 861.8,814.1 862.6,813.6 863.6,812.3 864.7,811.2 866.2,810.3 867.0,810.0 867.9,810.2 868.8,809.4 869.8,809.7 870.8,808.7 871.8,808.9 872.9,808.0 874.0,807.6 875.2,807.9 876.3,807.2 877.5,807.3 878.6,806.5 879.8,806.1 880.9,806.5 882.0,806.2 883.0,806.1 884.0,805.7 885.0,805.0 886.0,805.2 887.1,805.1 888.1,804.6 889.2,804.8 890.2,804.1 891.3,804.5 892.3,804.1 893.4,803.4 894.4,803.3 895.4,803.7 896.4,803.8 897.4,803.2 898.4,803.4 899.3,803.8 900.4,803.5 901.5,804.3 902.6,804.2 903.6,804.2 904.7,804.9 905.7,805.5 906.7,805.8 907.7,806.5 908.7,806.5 909.7,807.5 910.6,807.6 911.6,808.3 912.5,808.7 913.5,808.9 914.6,809.4 915.8,810.2 916.9,810.8 918.0,811.1 919.1,811.5 920.2,811.7 921.3,812.0 922.3,813.2 923.3,813.3 924.3,813.7 925.2,813.5 926.0,813.9 927.5,814.1 928.8,813.6 930.0,812.8 931.0,811.9 931.8,811.4 932.4,811.1" fill="none" stroke="#e43b3c" stroke-width="1.7" stroke-linejoin="round"/>
<line x1="658.2" y1="801" x2="658.2" y2="822" stroke="#111" stroke-width="1" stroke-dasharray="2,1.6"/>
<line x1="678.4" y1="801" x2="678.4" y2="822" stroke="#111" stroke-width="1" stroke-dasharray="2,1.6"/>
<line x1="820.2" y1="819" x2="820.2" y2="841" stroke="#111" stroke-width="1" stroke-dasharray="2,1.6"/>
<line x1="859.3" y1="806" x2="859.3" y2="826.4" stroke="#111" stroke-width="1" stroke-dasharray="2,1.6"/>
<line x1="819.5" y1="677" x2="819.5" y2="698" stroke="#111" stroke-width="1" stroke-dasharray="2,1.6"/>
<line x1="818.4" y1="714" x2="818.4" y2="735" stroke="#111" stroke-width="1" stroke-dasharray="2,1.6"/>
<line x1="821.3" y1="714" x2="821.3" y2="735" stroke="#111" stroke-width="1" stroke-dasharray="2,1.6"/>
<line x1="840.4" y1="666" x2="840.4" y2="718.3" stroke="#111" stroke-width="1" stroke-dasharray="2,1.6"/>
<line x1="850.7" y1="666" x2="850.7" y2="766" stroke="#111" stroke-width="1.2" stroke-dasharray="4.5,2.5"/>
<line x1="916.4" y1="664" x2="916.4" y2="766" stroke="#111" stroke-width="1.2" stroke-dasharray="4.5,2.5"/>
<rect x="587.2" y="641.2" width="345.1" height="206.6" fill="none" stroke="#000" stroke-width="1.3"/>
<line x1="611.9" y1="847.8" x2="611.9" y2="845.2" stroke="#000" stroke-width="1.1"/>
<line x1="636.5" y1="847.8" x2="636.5" y2="843.8" stroke="#000" stroke-width="1.1"/>
<line x1="661.2" y1="847.8" x2="661.2" y2="845.2" stroke="#000" stroke-width="1.1"/>
<line x1="685.8" y1="847.8" x2="685.8" y2="843.8" stroke="#000" stroke-width="1.1"/>
<line x1="710.5" y1="847.8" x2="710.5" y2="845.2" stroke="#000" stroke-width="1.1"/>
<line x1="735.1" y1="847.8" x2="735.1" y2="843.8" stroke="#000" stroke-width="1.1"/>
<line x1="759.8" y1="847.8" x2="759.8" y2="845.2" stroke="#000" stroke-width="1.1"/>
<line x1="784.4" y1="847.8" x2="784.4" y2="843.8" stroke="#000" stroke-width="1.1"/>
<line x1="809.1" y1="847.8" x2="809.1" y2="845.2" stroke="#000" stroke-width="1.1"/>
<line x1="833.7" y1="847.8" x2="833.7" y2="843.8" stroke="#000" stroke-width="1.1"/>
<line x1="858.4" y1="847.8" x2="858.4" y2="845.2" stroke="#000" stroke-width="1.1"/>
<line x1="883.0" y1="847.8" x2="883.0" y2="843.8" stroke="#000" stroke-width="1.1"/>
<line x1="907.7" y1="847.8" x2="907.7" y2="845.2" stroke="#000" stroke-width="1.1"/>
<g font-weight="bold" font-size="15" text-anchor="middle">
<text x="587.5" y="864.8">4.0</text>
<text x="636.8" y="864.8">3.5</text>
<text x="686.1" y="864.8">3.0</text>
<text x="735.4" y="864.8">2.5</text>
<text x="784.7" y="864.8">2.0</text>
<text x="834.0" y="864.8">1.5</text>
<text x="883.3" y="864.8">1.0</text>
<text x="932.6" y="864.8">0.5</text>
</g>
<text x="671" y="880.3" font-weight="bold" font-size="15.2" textLength="177.5" lengthAdjust="spacingAndGlyphs">Wavenumbers (×10<tspan font-size="9.5" dy="-6">3</tspan><tspan dy="6"> cm</tspan><tspan font-size="9.5" dy="-6">-1</tspan><tspan dy="6">)</tspan></text>
<text transform="translate(577.3,823) rotate(-90)" font-weight="bold" font-size="14.8">Relative transmittance</text>
<g font-weight="bold" font-size="12.2">
<text x="592.5" y="658.8" fill="#cf9c1c">GNPB with UV</text>
<text x="592.5" y="696" fill="#a86ee0">GNPB without UV</text>
<text x="592.5" y="730.8" fill="#2f9d58">GelMA/PVA/Borax</text>
<text x="592.5" y="763.5" fill="#1f66dc">GelMA/PNAGA</text>
<text x="592.5" y="799" fill="#e43b3c">GelMA</text>
</g>
<g font-weight="bold" font-size="12.2" fill="#111">
<text x="830.8" y="660.9" text-anchor="middle">1429</text>
<text x="815.2" y="696.2" text-anchor="end">1645</text>
<text x="854.5" y="698.8">1332</text>
<text x="814.5" y="728.5" text-anchor="end">1655</text>
<text x="821.5" y="735.1">1624</text>
<text x="891.8" y="728.9">665</text>
<text x="627.3" y="825.4">3287</text>
<text x="683.6" y="825.4">3073</text>
<text x="813.9" y="839.1" text-anchor="end">1636</text>
<text x="862.5" y="827.9">1244</text>
</g>
</g>
<g font-size="28.3">
<text x="6.2" y="27.5">(a)</text>
<text x="6.2" y="628.6">(b)</text>
<text x="548.6" y="629.6">(c)</text>
</g>

</svg>
</body></html>
